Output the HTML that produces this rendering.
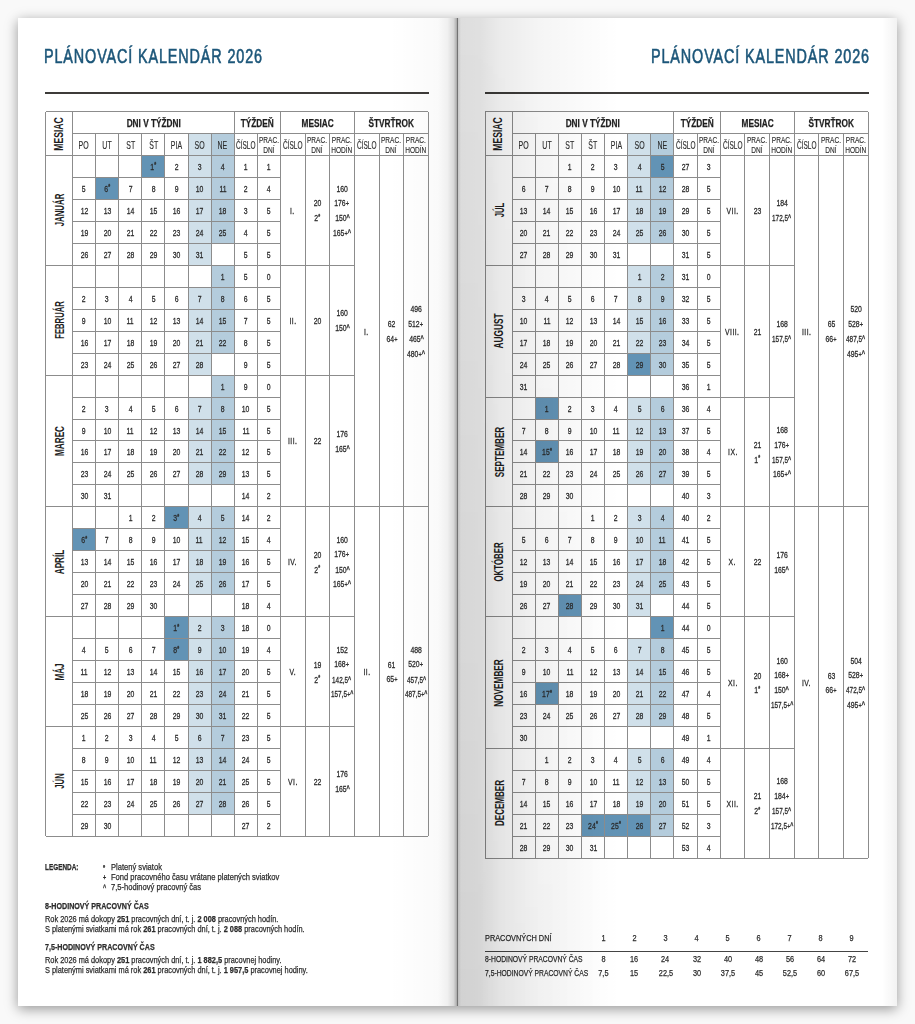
<!DOCTYPE html>
<html lang="sk"><head><meta charset="utf-8"><title>Plánovací kalendár 2026</title>
<style>
*{margin:0;padding:0;box-sizing:border-box}
html,body{width:915px;height:1024px;overflow:hidden;background:#f9f9f9}
body{position:relative;font-family:"Liberation Sans",Arial,sans-serif;color:#2b2b2b}
.r{position:absolute}
.c{position:absolute;display:flex;align-items:center;justify-content:center;text-align:center;white-space:nowrap}
.c>span{display:inline-block}
.n{font-size:9.8px;line-height:10px;-webkit-text-stroke:.3px #2b2b2b}
.n>span{transform:scaleX(0.7)}
.st{font-size:7px;font-weight:bold;position:relative;top:-2.5px;margin-left:.3px;line-height:0}
.ca{font-size:8px;font-weight:bold;position:relative;top:-1px;margin-left:0;line-height:0}
.lg6>span{transform:scaleX(.655)}
.rom>span{letter-spacing:.6px}
.pl{font-size:8px;margin-left:.3px}
.hb{font-size:10.6px;font-weight:bold;line-height:12px;-webkit-text-stroke:.25px #1e1e1e;color:#1e1e1e}
.hb>span{transform:scaleX(.78)}
.hs{font-size:10.5px;line-height:10px;-webkit-text-stroke:.15px #2b2b2b}
.hs>span{transform:scaleX(.662)}
.hs.k>span{transform:scaleX(.617)}
.hs2{font-size:9.8px;line-height:9.7px;-webkit-text-stroke:.15px #2b2b2b}
.hs2>span{transform:scaleX(.667)}
.hv{font-size:12.5px;font-weight:bold;color:#1e1e1e}
.hv>span{transform:rotate(-90deg) scaleX(.69)}
.mv{font-size:12.5px;font-weight:bold;color:#1e1e1e}
.mv>span{transform:rotate(-90deg) scaleX(.667)}
.page{position:absolute;top:18px;height:988px;background:#fff}
.title{position:absolute;top:45.5px;-webkit-text-stroke:.6px #1c5679;font-size:20px;line-height:20px;color:#1c5679;white-space:nowrap;transform-origin:0 0;transform:scaleX(.72);letter-spacing:1.2px}
.rule{position:absolute;top:91.8px;height:2px;background:#3d3b39}
.sl{position:absolute;font-size:9.5px;line-height:14px;-webkit-text-stroke:.25px #2b2b2b;white-space:nowrap;transform:scaleX(.8);transform-origin:0 0}
.sn{font-size:9.2px;line-height:10px;-webkit-text-stroke:.25px #2b2b2b}
.sn>span{transform:scaleX(.8)}
.lg{position:absolute;left:45px;font-size:9.5px;line-height:10px;white-space:nowrap;transform:scaleX(.778);transform-origin:0 0;-webkit-text-stroke:.25px #2b2b2b}
.sy{font-size:7px;font-weight:bold}
.lg b{font-weight:bold}
.ov{position:absolute;pointer-events:none}
</style></head>
<body>
<div class="r" style="left:18px;top:18px;width:879px;height:988px;box-shadow:0 3px 12px rgba(0,0,0,.4)"></div>
<div class="page" style="left:18px;width:439px"></div>
<div class="page" style="left:457px;width:440px"></div>
<div class="title" style="left:43.5px">PLÁNOVACÍ KALENDÁR 2026</div>
<div class="title" id="t2" style="left:651.3px">PLÁNOVACÍ KALENDÁR 2026</div>
<div class="rule" style="left:45px;width:384px"></div>
<div class="rule" style="left:485px;width:384px"></div>
<div class="r" style="left:188px;top:133.5px;width:23.1px;height:22px;background:#d0e0ea;"></div>
<div class="r" style="left:211.1px;top:133.5px;width:23.1px;height:22px;background:#b4ccdc;"></div>
<div class="r" style="left:141.8px;top:155.5px;width:23.1px;height:21.96px;background:#6293b5;"></div>
<div class="r" style="left:188px;top:155.5px;width:23.1px;height:21.96px;background:#d0e0ea;"></div>
<div class="r" style="left:211.1px;top:155.5px;width:23.1px;height:21.96px;background:#b4ccdc;"></div>
<div class="r" style="left:95.6px;top:177.46px;width:23.1px;height:21.96px;background:#6293b5;"></div>
<div class="r" style="left:188px;top:177.46px;width:23.1px;height:21.96px;background:#d0e0ea;"></div>
<div class="r" style="left:211.1px;top:177.46px;width:23.1px;height:21.96px;background:#b4ccdc;"></div>
<div class="r" style="left:188px;top:199.42px;width:23.1px;height:21.96px;background:#d0e0ea;"></div>
<div class="r" style="left:211.1px;top:199.42px;width:23.1px;height:21.96px;background:#b4ccdc;"></div>
<div class="r" style="left:188px;top:221.38px;width:23.1px;height:21.96px;background:#d0e0ea;"></div>
<div class="r" style="left:211.1px;top:221.38px;width:23.1px;height:21.96px;background:#b4ccdc;"></div>
<div class="r" style="left:188px;top:243.34px;width:23.1px;height:21.96px;background:#d0e0ea;"></div>
<div class="r" style="left:211.1px;top:265.3px;width:23.1px;height:21.96px;background:#b4ccdc;"></div>
<div class="r" style="left:188px;top:287.26px;width:23.1px;height:21.96px;background:#d0e0ea;"></div>
<div class="r" style="left:211.1px;top:287.26px;width:23.1px;height:21.96px;background:#b4ccdc;"></div>
<div class="r" style="left:188px;top:309.22px;width:23.1px;height:21.96px;background:#d0e0ea;"></div>
<div class="r" style="left:211.1px;top:309.22px;width:23.1px;height:21.96px;background:#b4ccdc;"></div>
<div class="r" style="left:188px;top:331.18px;width:23.1px;height:21.96px;background:#d0e0ea;"></div>
<div class="r" style="left:211.1px;top:331.18px;width:23.1px;height:21.96px;background:#b4ccdc;"></div>
<div class="r" style="left:188px;top:353.14px;width:23.1px;height:21.96px;background:#d0e0ea;"></div>
<div class="r" style="left:211.1px;top:375.1px;width:23.1px;height:21.96px;background:#b4ccdc;"></div>
<div class="r" style="left:188px;top:397.06px;width:23.1px;height:21.96px;background:#d0e0ea;"></div>
<div class="r" style="left:211.1px;top:397.06px;width:23.1px;height:21.96px;background:#b4ccdc;"></div>
<div class="r" style="left:188px;top:419.02px;width:23.1px;height:21.96px;background:#d0e0ea;"></div>
<div class="r" style="left:211.1px;top:419.02px;width:23.1px;height:21.96px;background:#b4ccdc;"></div>
<div class="r" style="left:188px;top:440.98px;width:23.1px;height:21.96px;background:#d0e0ea;"></div>
<div class="r" style="left:211.1px;top:440.98px;width:23.1px;height:21.96px;background:#b4ccdc;"></div>
<div class="r" style="left:188px;top:462.94px;width:23.1px;height:21.96px;background:#d0e0ea;"></div>
<div class="r" style="left:211.1px;top:462.94px;width:23.1px;height:21.96px;background:#b4ccdc;"></div>
<div class="r" style="left:164.9px;top:506.86px;width:23.1px;height:21.96px;background:#6293b5;"></div>
<div class="r" style="left:188px;top:506.86px;width:23.1px;height:21.96px;background:#d0e0ea;"></div>
<div class="r" style="left:211.1px;top:506.86px;width:23.1px;height:21.96px;background:#b4ccdc;"></div>
<div class="r" style="left:72.5px;top:528.82px;width:23.1px;height:21.96px;background:#6293b5;"></div>
<div class="r" style="left:188px;top:528.82px;width:23.1px;height:21.96px;background:#d0e0ea;"></div>
<div class="r" style="left:211.1px;top:528.82px;width:23.1px;height:21.96px;background:#b4ccdc;"></div>
<div class="r" style="left:188px;top:550.78px;width:23.1px;height:21.96px;background:#d0e0ea;"></div>
<div class="r" style="left:211.1px;top:550.78px;width:23.1px;height:21.96px;background:#b4ccdc;"></div>
<div class="r" style="left:188px;top:572.74px;width:23.1px;height:21.96px;background:#d0e0ea;"></div>
<div class="r" style="left:211.1px;top:572.74px;width:23.1px;height:21.96px;background:#b4ccdc;"></div>
<div class="r" style="left:164.9px;top:616.66px;width:23.1px;height:21.96px;background:#6293b5;"></div>
<div class="r" style="left:188px;top:616.66px;width:23.1px;height:21.96px;background:#d0e0ea;"></div>
<div class="r" style="left:211.1px;top:616.66px;width:23.1px;height:21.96px;background:#b4ccdc;"></div>
<div class="r" style="left:164.9px;top:638.62px;width:23.1px;height:21.96px;background:#6293b5;"></div>
<div class="r" style="left:188px;top:638.62px;width:23.1px;height:21.96px;background:#d0e0ea;"></div>
<div class="r" style="left:211.1px;top:638.62px;width:23.1px;height:21.96px;background:#b4ccdc;"></div>
<div class="r" style="left:188px;top:660.58px;width:23.1px;height:21.96px;background:#d0e0ea;"></div>
<div class="r" style="left:211.1px;top:660.58px;width:23.1px;height:21.96px;background:#b4ccdc;"></div>
<div class="r" style="left:188px;top:682.54px;width:23.1px;height:21.96px;background:#d0e0ea;"></div>
<div class="r" style="left:211.1px;top:682.54px;width:23.1px;height:21.96px;background:#b4ccdc;"></div>
<div class="r" style="left:188px;top:704.5px;width:23.1px;height:21.96px;background:#d0e0ea;"></div>
<div class="r" style="left:211.1px;top:704.5px;width:23.1px;height:21.96px;background:#b4ccdc;"></div>
<div class="r" style="left:188px;top:726.46px;width:23.1px;height:21.96px;background:#d0e0ea;"></div>
<div class="r" style="left:211.1px;top:726.46px;width:23.1px;height:21.96px;background:#b4ccdc;"></div>
<div class="r" style="left:188px;top:748.42px;width:23.1px;height:21.96px;background:#d0e0ea;"></div>
<div class="r" style="left:211.1px;top:748.42px;width:23.1px;height:21.96px;background:#b4ccdc;"></div>
<div class="r" style="left:188px;top:770.38px;width:23.1px;height:21.96px;background:#d0e0ea;"></div>
<div class="r" style="left:211.1px;top:770.38px;width:23.1px;height:21.96px;background:#b4ccdc;"></div>
<div class="r" style="left:188px;top:792.34px;width:23.1px;height:21.96px;background:#d0e0ea;"></div>
<div class="r" style="left:211.1px;top:792.34px;width:23.1px;height:21.96px;background:#b4ccdc;"></div>
<div class="r" style="left:45.5px;top:111px;width:382.98px;height:1px;background:#8c8c8c;"></div>
<div class="r" style="left:45.5px;top:835.76px;width:382.98px;height:1px;background:#8c8c8c;"></div>
<div class="r" style="left:45px;top:111.5px;width:1px;height:724.76px;background:#8c8c8c;"></div>
<div class="r" style="left:427.98px;top:111.5px;width:1px;height:724.76px;background:#8c8c8c;"></div>
<div class="r" style="left:72.5px;top:133px;width:355.98px;height:1px;background:#8c8c8c;"></div>
<div class="r" style="left:45.5px;top:155px;width:382.98px;height:1px;background:#8c8c8c;"></div>
<div class="r" style="left:72px;top:111.5px;width:1px;height:724.76px;background:#8c8c8c;"></div>
<div class="r" style="left:233.7px;top:111.5px;width:1px;height:724.76px;background:#8c8c8c;"></div>
<div class="r" style="left:279.9px;top:111.5px;width:1px;height:724.76px;background:#8c8c8c;"></div>
<div class="r" style="left:353.94px;top:111.5px;width:1px;height:724.76px;background:#8c8c8c;"></div>
<div class="r" style="left:95.1px;top:133.5px;width:1px;height:22px;background:#8c8c8c;"></div>
<div class="r" style="left:118.2px;top:133.5px;width:1px;height:22px;background:#8c8c8c;"></div>
<div class="r" style="left:141.3px;top:133.5px;width:1px;height:22px;background:#8c8c8c;"></div>
<div class="r" style="left:164.4px;top:133.5px;width:1px;height:22px;background:#8c8c8c;"></div>
<div class="r" style="left:187.5px;top:133.5px;width:1px;height:22px;background:#8c8c8c;"></div>
<div class="r" style="left:210.6px;top:133.5px;width:1px;height:22px;background:#8c8c8c;"></div>
<div class="r" style="left:256.8px;top:133.5px;width:1px;height:22px;background:#8c8c8c;"></div>
<div class="r" style="left:304.58px;top:133.5px;width:1px;height:22px;background:#8c8c8c;"></div>
<div class="r" style="left:329.26px;top:133.5px;width:1px;height:22px;background:#8c8c8c;"></div>
<div class="r" style="left:378.62px;top:133.5px;width:1px;height:22px;background:#8c8c8c;"></div>
<div class="r" style="left:403.3px;top:133.5px;width:1px;height:22px;background:#8c8c8c;"></div>
<div class="r" style="left:72.5px;top:176.96px;width:207.9px;height:1px;background:#8c8c8c;"></div>
<div class="r" style="left:72.5px;top:198.92px;width:207.9px;height:1px;background:#8c8c8c;"></div>
<div class="r" style="left:72.5px;top:220.88px;width:207.9px;height:1px;background:#8c8c8c;"></div>
<div class="r" style="left:72.5px;top:242.84px;width:207.9px;height:1px;background:#8c8c8c;"></div>
<div class="r" style="left:45.5px;top:264.8px;width:308.94px;height:1px;background:#8c8c8c;"></div>
<div class="r" style="left:72.5px;top:286.76px;width:207.9px;height:1px;background:#8c8c8c;"></div>
<div class="r" style="left:72.5px;top:308.72px;width:207.9px;height:1px;background:#8c8c8c;"></div>
<div class="r" style="left:72.5px;top:330.68px;width:207.9px;height:1px;background:#8c8c8c;"></div>
<div class="r" style="left:72.5px;top:352.64px;width:207.9px;height:1px;background:#8c8c8c;"></div>
<div class="r" style="left:45.5px;top:374.6px;width:308.94px;height:1px;background:#8c8c8c;"></div>
<div class="r" style="left:72.5px;top:396.56px;width:207.9px;height:1px;background:#8c8c8c;"></div>
<div class="r" style="left:72.5px;top:418.52px;width:207.9px;height:1px;background:#8c8c8c;"></div>
<div class="r" style="left:72.5px;top:440.48px;width:207.9px;height:1px;background:#8c8c8c;"></div>
<div class="r" style="left:72.5px;top:462.44px;width:207.9px;height:1px;background:#8c8c8c;"></div>
<div class="r" style="left:72.5px;top:484.4px;width:207.9px;height:1px;background:#8c8c8c;"></div>
<div class="r" style="left:45.5px;top:506.36px;width:308.94px;height:1px;background:#8c8c8c;"></div>
<div class="r" style="left:72.5px;top:528.32px;width:207.9px;height:1px;background:#8c8c8c;"></div>
<div class="r" style="left:72.5px;top:550.28px;width:207.9px;height:1px;background:#8c8c8c;"></div>
<div class="r" style="left:72.5px;top:572.24px;width:207.9px;height:1px;background:#8c8c8c;"></div>
<div class="r" style="left:72.5px;top:594.2px;width:207.9px;height:1px;background:#8c8c8c;"></div>
<div class="r" style="left:45.5px;top:616.16px;width:308.94px;height:1px;background:#8c8c8c;"></div>
<div class="r" style="left:72.5px;top:638.12px;width:207.9px;height:1px;background:#8c8c8c;"></div>
<div class="r" style="left:72.5px;top:660.08px;width:207.9px;height:1px;background:#8c8c8c;"></div>
<div class="r" style="left:72.5px;top:682.04px;width:207.9px;height:1px;background:#8c8c8c;"></div>
<div class="r" style="left:72.5px;top:704px;width:207.9px;height:1px;background:#8c8c8c;"></div>
<div class="r" style="left:45.5px;top:725.96px;width:308.94px;height:1px;background:#8c8c8c;"></div>
<div class="r" style="left:72.5px;top:747.92px;width:207.9px;height:1px;background:#8c8c8c;"></div>
<div class="r" style="left:72.5px;top:769.88px;width:207.9px;height:1px;background:#8c8c8c;"></div>
<div class="r" style="left:72.5px;top:791.84px;width:207.9px;height:1px;background:#8c8c8c;"></div>
<div class="r" style="left:72.5px;top:813.8px;width:207.9px;height:1px;background:#8c8c8c;"></div>
<div class="r" style="left:95.1px;top:155.5px;width:1px;height:680.76px;background:#8c8c8c;"></div>
<div class="r" style="left:118.2px;top:155.5px;width:1px;height:680.76px;background:#8c8c8c;"></div>
<div class="r" style="left:141.3px;top:155.5px;width:1px;height:680.76px;background:#8c8c8c;"></div>
<div class="r" style="left:164.4px;top:155.5px;width:1px;height:680.76px;background:#8c8c8c;"></div>
<div class="r" style="left:187.5px;top:155.5px;width:1px;height:680.76px;background:#8c8c8c;"></div>
<div class="r" style="left:210.6px;top:155.5px;width:1px;height:680.76px;background:#8c8c8c;"></div>
<div class="r" style="left:233.7px;top:155.5px;width:1px;height:680.76px;background:#8c8c8c;"></div>
<div class="r" style="left:256.8px;top:155.5px;width:1px;height:680.76px;background:#8c8c8c;"></div>
<div class="r" style="left:304.58px;top:155.5px;width:1px;height:680.76px;background:#8c8c8c;"></div>
<div class="r" style="left:329.26px;top:155.5px;width:1px;height:680.76px;background:#8c8c8c;"></div>
<div class="r" style="left:378.62px;top:155.5px;width:1px;height:680.76px;background:#8c8c8c;"></div>
<div class="r" style="left:403.3px;top:155.5px;width:1px;height:680.76px;background:#8c8c8c;"></div>
<div class="r" style="left:354.44px;top:506.36px;width:74.04px;height:1px;background:#8c8c8c;"></div>
<div class="c hv" style="left:41px;top:126.5px;width:36px;height:14px"><span>MESIAC</span></div>
<div class="c hb" style="left:93.35px;top:115.5px;width:120px;height:14px"><span>DNI V TÝŽDNI</span></div>
<div class="c hb" style="left:234.3px;top:115.5px;width:46px;height:14px"><span>TÝŽDEŇ</span></div>
<div class="c hb" style="left:280.42px;top:115.5px;width:74px;height:14px"><span>MESIAC</span></div>
<div class="c hb" style="left:354.46px;top:115.5px;width:74px;height:14px"><span>ŠTVRŤROK</span></div>
<div class="c hs" style="left:72.5px;top:137.5px;width:23.1px;height:14px"><span>PO</span></div>
<div class="c hs" style="left:95.6px;top:137.5px;width:23.1px;height:14px"><span>UT</span></div>
<div class="c hs" style="left:118.7px;top:137.5px;width:23.1px;height:14px"><span>ST</span></div>
<div class="c hs" style="left:141.8px;top:137.5px;width:23.1px;height:14px"><span>ŠT</span></div>
<div class="c hs" style="left:164.9px;top:137.5px;width:23.1px;height:14px"><span>PIA</span></div>
<div class="c hs" style="left:188px;top:137.5px;width:23.1px;height:14px"><span>SO</span></div>
<div class="c hs" style="left:211.1px;top:137.5px;width:23.1px;height:14px"><span>NE</span></div>
<div class="c hs k" style="left:230.75px;top:134.5px;width:30px;height:20px"><span>ČÍSLO</span></div>
<div class="c hs2" style="left:253.85px;top:134.5px;width:30px;height:20px"><span>PRAC.<br>DNÍ</span></div>
<div class="c hs k" style="left:277.74px;top:134.5px;width:30px;height:20px"><span>ČÍSLO</span></div>
<div class="c hs2" style="left:302.42px;top:134.5px;width:30px;height:20px"><span>PRAC.<br>DNÍ</span></div>
<div class="c hs2" style="left:327.1px;top:134.5px;width:30px;height:20px"><span>PRAC.<br>HODÍN</span></div>
<div class="c hs k" style="left:351.78px;top:134.5px;width:30px;height:20px"><span>ČÍSLO</span></div>
<div class="c hs2" style="left:376.46px;top:134.5px;width:30px;height:20px"><span>PRAC.<br>DNÍ</span></div>
<div class="c hs2" style="left:401.14px;top:134.5px;width:30px;height:20px"><span>PRAC.<br>HODÍN</span></div>
<div class="c n" style="left:141.8px;top:159.98px;width:23.1px;height:14px"><span>1<span class="st">*</span></span></div>
<div class="c n" style="left:164.9px;top:159.98px;width:23.1px;height:14px"><span>2</span></div>
<div class="c n" style="left:188px;top:159.98px;width:23.1px;height:14px"><span>3</span></div>
<div class="c n" style="left:211.1px;top:159.98px;width:23.1px;height:14px"><span>4</span></div>
<div class="c n" style="left:72.5px;top:181.94px;width:23.1px;height:14px"><span>5</span></div>
<div class="c n" style="left:95.6px;top:181.94px;width:23.1px;height:14px"><span>6<span class="st">*</span></span></div>
<div class="c n" style="left:118.7px;top:181.94px;width:23.1px;height:14px"><span>7</span></div>
<div class="c n" style="left:141.8px;top:181.94px;width:23.1px;height:14px"><span>8</span></div>
<div class="c n" style="left:164.9px;top:181.94px;width:23.1px;height:14px"><span>9</span></div>
<div class="c n" style="left:188px;top:181.94px;width:23.1px;height:14px"><span>10</span></div>
<div class="c n" style="left:211.1px;top:181.94px;width:23.1px;height:14px"><span>11</span></div>
<div class="c n" style="left:72.5px;top:203.9px;width:23.1px;height:14px"><span>12</span></div>
<div class="c n" style="left:95.6px;top:203.9px;width:23.1px;height:14px"><span>13</span></div>
<div class="c n" style="left:118.7px;top:203.9px;width:23.1px;height:14px"><span>14</span></div>
<div class="c n" style="left:141.8px;top:203.9px;width:23.1px;height:14px"><span>15</span></div>
<div class="c n" style="left:164.9px;top:203.9px;width:23.1px;height:14px"><span>16</span></div>
<div class="c n" style="left:188px;top:203.9px;width:23.1px;height:14px"><span>17</span></div>
<div class="c n" style="left:211.1px;top:203.9px;width:23.1px;height:14px"><span>18</span></div>
<div class="c n" style="left:72.5px;top:225.86px;width:23.1px;height:14px"><span>19</span></div>
<div class="c n" style="left:95.6px;top:225.86px;width:23.1px;height:14px"><span>20</span></div>
<div class="c n" style="left:118.7px;top:225.86px;width:23.1px;height:14px"><span>21</span></div>
<div class="c n" style="left:141.8px;top:225.86px;width:23.1px;height:14px"><span>22</span></div>
<div class="c n" style="left:164.9px;top:225.86px;width:23.1px;height:14px"><span>23</span></div>
<div class="c n" style="left:188px;top:225.86px;width:23.1px;height:14px"><span>24</span></div>
<div class="c n" style="left:211.1px;top:225.86px;width:23.1px;height:14px"><span>25</span></div>
<div class="c n" style="left:72.5px;top:247.82px;width:23.1px;height:14px"><span>26</span></div>
<div class="c n" style="left:95.6px;top:247.82px;width:23.1px;height:14px"><span>27</span></div>
<div class="c n" style="left:118.7px;top:247.82px;width:23.1px;height:14px"><span>28</span></div>
<div class="c n" style="left:141.8px;top:247.82px;width:23.1px;height:14px"><span>29</span></div>
<div class="c n" style="left:164.9px;top:247.82px;width:23.1px;height:14px"><span>30</span></div>
<div class="c n" style="left:188px;top:247.82px;width:23.1px;height:14px"><span>31</span></div>
<div class="c n" style="left:234.2px;top:159.98px;width:23.1px;height:14px"><span>1</span></div>
<div class="c n" style="left:257.3px;top:159.98px;width:23.1px;height:14px"><span>1</span></div>
<div class="c n" style="left:234.2px;top:181.94px;width:23.1px;height:14px"><span>2</span></div>
<div class="c n" style="left:257.3px;top:181.94px;width:23.1px;height:14px"><span>4</span></div>
<div class="c n" style="left:234.2px;top:203.9px;width:23.1px;height:14px"><span>3</span></div>
<div class="c n" style="left:257.3px;top:203.9px;width:23.1px;height:14px"><span>5</span></div>
<div class="c n" style="left:234.2px;top:225.86px;width:23.1px;height:14px"><span>4</span></div>
<div class="c n" style="left:257.3px;top:225.86px;width:23.1px;height:14px"><span>5</span></div>
<div class="c n" style="left:234.2px;top:247.82px;width:23.1px;height:14px"><span>5</span></div>
<div class="c n" style="left:257.3px;top:247.82px;width:23.1px;height:14px"><span>5</span></div>
<div class="c mv" style="left:19.8px;top:203.4px;width:80px;height:14px"><span style="transform:rotate(-90deg) scaleX(0.628)">JANUÁR</span></div>
<div class="c n rom" style="left:280.4px;top:203.9px;width:24.68px;height:14px"><span>I.</span></div>
<div class="c n" style="left:300.42px;top:196.45px;width:34px;height:14px"><span>20</span></div>
<div class="c n" style="left:300.42px;top:211.35px;width:34px;height:14px"><span>2<span class="st">*</span></span></div>
<div class="c n" style="left:325.1px;top:181.55px;width:34px;height:14px"><span>160</span></div>
<div class="c n" style="left:325.1px;top:196.45px;width:34px;height:14px"><span>176<span class="pl">+</span></span></div>
<div class="c n" style="left:325.1px;top:211.35px;width:34px;height:14px"><span>150<span class="ca">^</span></span></div>
<div class="c n" style="left:325.1px;top:226.25px;width:34px;height:14px"><span>165<span class="pl">+</span><span class="ca">^</span></span></div>
<div class="c n" style="left:211.1px;top:269.78px;width:23.1px;height:14px"><span>1</span></div>
<div class="c n" style="left:72.5px;top:291.74px;width:23.1px;height:14px"><span>2</span></div>
<div class="c n" style="left:95.6px;top:291.74px;width:23.1px;height:14px"><span>3</span></div>
<div class="c n" style="left:118.7px;top:291.74px;width:23.1px;height:14px"><span>4</span></div>
<div class="c n" style="left:141.8px;top:291.74px;width:23.1px;height:14px"><span>5</span></div>
<div class="c n" style="left:164.9px;top:291.74px;width:23.1px;height:14px"><span>6</span></div>
<div class="c n" style="left:188px;top:291.74px;width:23.1px;height:14px"><span>7</span></div>
<div class="c n" style="left:211.1px;top:291.74px;width:23.1px;height:14px"><span>8</span></div>
<div class="c n" style="left:72.5px;top:313.7px;width:23.1px;height:14px"><span>9</span></div>
<div class="c n" style="left:95.6px;top:313.7px;width:23.1px;height:14px"><span>10</span></div>
<div class="c n" style="left:118.7px;top:313.7px;width:23.1px;height:14px"><span>11</span></div>
<div class="c n" style="left:141.8px;top:313.7px;width:23.1px;height:14px"><span>12</span></div>
<div class="c n" style="left:164.9px;top:313.7px;width:23.1px;height:14px"><span>13</span></div>
<div class="c n" style="left:188px;top:313.7px;width:23.1px;height:14px"><span>14</span></div>
<div class="c n" style="left:211.1px;top:313.7px;width:23.1px;height:14px"><span>15</span></div>
<div class="c n" style="left:72.5px;top:335.66px;width:23.1px;height:14px"><span>16</span></div>
<div class="c n" style="left:95.6px;top:335.66px;width:23.1px;height:14px"><span>17</span></div>
<div class="c n" style="left:118.7px;top:335.66px;width:23.1px;height:14px"><span>18</span></div>
<div class="c n" style="left:141.8px;top:335.66px;width:23.1px;height:14px"><span>19</span></div>
<div class="c n" style="left:164.9px;top:335.66px;width:23.1px;height:14px"><span>20</span></div>
<div class="c n" style="left:188px;top:335.66px;width:23.1px;height:14px"><span>21</span></div>
<div class="c n" style="left:211.1px;top:335.66px;width:23.1px;height:14px"><span>22</span></div>
<div class="c n" style="left:72.5px;top:357.62px;width:23.1px;height:14px"><span>23</span></div>
<div class="c n" style="left:95.6px;top:357.62px;width:23.1px;height:14px"><span>24</span></div>
<div class="c n" style="left:118.7px;top:357.62px;width:23.1px;height:14px"><span>25</span></div>
<div class="c n" style="left:141.8px;top:357.62px;width:23.1px;height:14px"><span>26</span></div>
<div class="c n" style="left:164.9px;top:357.62px;width:23.1px;height:14px"><span>27</span></div>
<div class="c n" style="left:188px;top:357.62px;width:23.1px;height:14px"><span>28</span></div>
<div class="c n" style="left:234.2px;top:269.78px;width:23.1px;height:14px"><span>5</span></div>
<div class="c n" style="left:257.3px;top:269.78px;width:23.1px;height:14px"><span>0</span></div>
<div class="c n" style="left:234.2px;top:291.74px;width:23.1px;height:14px"><span>6</span></div>
<div class="c n" style="left:257.3px;top:291.74px;width:23.1px;height:14px"><span>5</span></div>
<div class="c n" style="left:234.2px;top:313.7px;width:23.1px;height:14px"><span>7</span></div>
<div class="c n" style="left:257.3px;top:313.7px;width:23.1px;height:14px"><span>5</span></div>
<div class="c n" style="left:234.2px;top:335.66px;width:23.1px;height:14px"><span>8</span></div>
<div class="c n" style="left:257.3px;top:335.66px;width:23.1px;height:14px"><span>5</span></div>
<div class="c n" style="left:234.2px;top:357.62px;width:23.1px;height:14px"><span>9</span></div>
<div class="c n" style="left:257.3px;top:357.62px;width:23.1px;height:14px"><span>5</span></div>
<div class="c mv" style="left:19.8px;top:313.2px;width:80px;height:14px"><span style="transform:rotate(-90deg) scaleX(0.615)">FEBRUÁR</span></div>
<div class="c n rom" style="left:280.4px;top:313.7px;width:24.68px;height:14px"><span>II.</span></div>
<div class="c n" style="left:300.42px;top:313.7px;width:34px;height:14px"><span>20</span></div>
<div class="c n" style="left:325.1px;top:306.25px;width:34px;height:14px"><span>160</span></div>
<div class="c n" style="left:325.1px;top:321.15px;width:34px;height:14px"><span>150<span class="ca">^</span></span></div>
<div class="c n" style="left:211.1px;top:379.58px;width:23.1px;height:14px"><span>1</span></div>
<div class="c n" style="left:72.5px;top:401.54px;width:23.1px;height:14px"><span>2</span></div>
<div class="c n" style="left:95.6px;top:401.54px;width:23.1px;height:14px"><span>3</span></div>
<div class="c n" style="left:118.7px;top:401.54px;width:23.1px;height:14px"><span>4</span></div>
<div class="c n" style="left:141.8px;top:401.54px;width:23.1px;height:14px"><span>5</span></div>
<div class="c n" style="left:164.9px;top:401.54px;width:23.1px;height:14px"><span>6</span></div>
<div class="c n" style="left:188px;top:401.54px;width:23.1px;height:14px"><span>7</span></div>
<div class="c n" style="left:211.1px;top:401.54px;width:23.1px;height:14px"><span>8</span></div>
<div class="c n" style="left:72.5px;top:423.5px;width:23.1px;height:14px"><span>9</span></div>
<div class="c n" style="left:95.6px;top:423.5px;width:23.1px;height:14px"><span>10</span></div>
<div class="c n" style="left:118.7px;top:423.5px;width:23.1px;height:14px"><span>11</span></div>
<div class="c n" style="left:141.8px;top:423.5px;width:23.1px;height:14px"><span>12</span></div>
<div class="c n" style="left:164.9px;top:423.5px;width:23.1px;height:14px"><span>13</span></div>
<div class="c n" style="left:188px;top:423.5px;width:23.1px;height:14px"><span>14</span></div>
<div class="c n" style="left:211.1px;top:423.5px;width:23.1px;height:14px"><span>15</span></div>
<div class="c n" style="left:72.5px;top:445.46px;width:23.1px;height:14px"><span>16</span></div>
<div class="c n" style="left:95.6px;top:445.46px;width:23.1px;height:14px"><span>17</span></div>
<div class="c n" style="left:118.7px;top:445.46px;width:23.1px;height:14px"><span>18</span></div>
<div class="c n" style="left:141.8px;top:445.46px;width:23.1px;height:14px"><span>19</span></div>
<div class="c n" style="left:164.9px;top:445.46px;width:23.1px;height:14px"><span>20</span></div>
<div class="c n" style="left:188px;top:445.46px;width:23.1px;height:14px"><span>21</span></div>
<div class="c n" style="left:211.1px;top:445.46px;width:23.1px;height:14px"><span>22</span></div>
<div class="c n" style="left:72.5px;top:467.42px;width:23.1px;height:14px"><span>23</span></div>
<div class="c n" style="left:95.6px;top:467.42px;width:23.1px;height:14px"><span>24</span></div>
<div class="c n" style="left:118.7px;top:467.42px;width:23.1px;height:14px"><span>25</span></div>
<div class="c n" style="left:141.8px;top:467.42px;width:23.1px;height:14px"><span>26</span></div>
<div class="c n" style="left:164.9px;top:467.42px;width:23.1px;height:14px"><span>27</span></div>
<div class="c n" style="left:188px;top:467.42px;width:23.1px;height:14px"><span>28</span></div>
<div class="c n" style="left:211.1px;top:467.42px;width:23.1px;height:14px"><span>29</span></div>
<div class="c n" style="left:72.5px;top:489.38px;width:23.1px;height:14px"><span>30</span></div>
<div class="c n" style="left:95.6px;top:489.38px;width:23.1px;height:14px"><span>31</span></div>
<div class="c n" style="left:234.2px;top:379.58px;width:23.1px;height:14px"><span>9</span></div>
<div class="c n" style="left:257.3px;top:379.58px;width:23.1px;height:14px"><span>0</span></div>
<div class="c n" style="left:234.2px;top:401.54px;width:23.1px;height:14px"><span>10</span></div>
<div class="c n" style="left:257.3px;top:401.54px;width:23.1px;height:14px"><span>5</span></div>
<div class="c n" style="left:234.2px;top:423.5px;width:23.1px;height:14px"><span>11</span></div>
<div class="c n" style="left:257.3px;top:423.5px;width:23.1px;height:14px"><span>5</span></div>
<div class="c n" style="left:234.2px;top:445.46px;width:23.1px;height:14px"><span>12</span></div>
<div class="c n" style="left:257.3px;top:445.46px;width:23.1px;height:14px"><span>5</span></div>
<div class="c n" style="left:234.2px;top:467.42px;width:23.1px;height:14px"><span>13</span></div>
<div class="c n" style="left:257.3px;top:467.42px;width:23.1px;height:14px"><span>5</span></div>
<div class="c n" style="left:234.2px;top:489.38px;width:23.1px;height:14px"><span>14</span></div>
<div class="c n" style="left:257.3px;top:489.38px;width:23.1px;height:14px"><span>2</span></div>
<div class="c mv" style="left:19.8px;top:433.98px;width:80px;height:14px"><span style="transform:rotate(-90deg) scaleX(0.654)">MAREC</span></div>
<div class="c n rom" style="left:280.4px;top:434.48px;width:24.68px;height:14px"><span>III.</span></div>
<div class="c n" style="left:300.42px;top:434.48px;width:34px;height:14px"><span>22</span></div>
<div class="c n" style="left:325.1px;top:427.03px;width:34px;height:14px"><span>176</span></div>
<div class="c n" style="left:325.1px;top:441.93px;width:34px;height:14px"><span>165<span class="ca">^</span></span></div>
<div class="c n" style="left:118.7px;top:511.34px;width:23.1px;height:14px"><span>1</span></div>
<div class="c n" style="left:141.8px;top:511.34px;width:23.1px;height:14px"><span>2</span></div>
<div class="c n" style="left:164.9px;top:511.34px;width:23.1px;height:14px"><span>3<span class="st">*</span></span></div>
<div class="c n" style="left:188px;top:511.34px;width:23.1px;height:14px"><span>4</span></div>
<div class="c n" style="left:211.1px;top:511.34px;width:23.1px;height:14px"><span>5</span></div>
<div class="c n" style="left:72.5px;top:533.3px;width:23.1px;height:14px"><span>6<span class="st">*</span></span></div>
<div class="c n" style="left:95.6px;top:533.3px;width:23.1px;height:14px"><span>7</span></div>
<div class="c n" style="left:118.7px;top:533.3px;width:23.1px;height:14px"><span>8</span></div>
<div class="c n" style="left:141.8px;top:533.3px;width:23.1px;height:14px"><span>9</span></div>
<div class="c n" style="left:164.9px;top:533.3px;width:23.1px;height:14px"><span>10</span></div>
<div class="c n" style="left:188px;top:533.3px;width:23.1px;height:14px"><span>11</span></div>
<div class="c n" style="left:211.1px;top:533.3px;width:23.1px;height:14px"><span>12</span></div>
<div class="c n" style="left:72.5px;top:555.26px;width:23.1px;height:14px"><span>13</span></div>
<div class="c n" style="left:95.6px;top:555.26px;width:23.1px;height:14px"><span>14</span></div>
<div class="c n" style="left:118.7px;top:555.26px;width:23.1px;height:14px"><span>15</span></div>
<div class="c n" style="left:141.8px;top:555.26px;width:23.1px;height:14px"><span>16</span></div>
<div class="c n" style="left:164.9px;top:555.26px;width:23.1px;height:14px"><span>17</span></div>
<div class="c n" style="left:188px;top:555.26px;width:23.1px;height:14px"><span>18</span></div>
<div class="c n" style="left:211.1px;top:555.26px;width:23.1px;height:14px"><span>19</span></div>
<div class="c n" style="left:72.5px;top:577.22px;width:23.1px;height:14px"><span>20</span></div>
<div class="c n" style="left:95.6px;top:577.22px;width:23.1px;height:14px"><span>21</span></div>
<div class="c n" style="left:118.7px;top:577.22px;width:23.1px;height:14px"><span>22</span></div>
<div class="c n" style="left:141.8px;top:577.22px;width:23.1px;height:14px"><span>23</span></div>
<div class="c n" style="left:164.9px;top:577.22px;width:23.1px;height:14px"><span>24</span></div>
<div class="c n" style="left:188px;top:577.22px;width:23.1px;height:14px"><span>25</span></div>
<div class="c n" style="left:211.1px;top:577.22px;width:23.1px;height:14px"><span>26</span></div>
<div class="c n" style="left:72.5px;top:599.18px;width:23.1px;height:14px"><span>27</span></div>
<div class="c n" style="left:95.6px;top:599.18px;width:23.1px;height:14px"><span>28</span></div>
<div class="c n" style="left:118.7px;top:599.18px;width:23.1px;height:14px"><span>29</span></div>
<div class="c n" style="left:141.8px;top:599.18px;width:23.1px;height:14px"><span>30</span></div>
<div class="c n" style="left:234.2px;top:511.34px;width:23.1px;height:14px"><span>14</span></div>
<div class="c n" style="left:257.3px;top:511.34px;width:23.1px;height:14px"><span>2</span></div>
<div class="c n" style="left:234.2px;top:533.3px;width:23.1px;height:14px"><span>15</span></div>
<div class="c n" style="left:257.3px;top:533.3px;width:23.1px;height:14px"><span>4</span></div>
<div class="c n" style="left:234.2px;top:555.26px;width:23.1px;height:14px"><span>16</span></div>
<div class="c n" style="left:257.3px;top:555.26px;width:23.1px;height:14px"><span>5</span></div>
<div class="c n" style="left:234.2px;top:577.22px;width:23.1px;height:14px"><span>17</span></div>
<div class="c n" style="left:257.3px;top:577.22px;width:23.1px;height:14px"><span>5</span></div>
<div class="c n" style="left:234.2px;top:599.18px;width:23.1px;height:14px"><span>18</span></div>
<div class="c n" style="left:257.3px;top:599.18px;width:23.1px;height:14px"><span>4</span></div>
<div class="c mv" style="left:19.8px;top:554.76px;width:80px;height:14px"><span style="transform:rotate(-90deg) scaleX(0.653)">APRÍL</span></div>
<div class="c n rom" style="left:280.4px;top:555.26px;width:24.68px;height:14px"><span>IV.</span></div>
<div class="c n" style="left:300.42px;top:547.81px;width:34px;height:14px"><span>20</span></div>
<div class="c n" style="left:300.42px;top:562.71px;width:34px;height:14px"><span>2<span class="st">*</span></span></div>
<div class="c n" style="left:325.1px;top:532.91px;width:34px;height:14px"><span>160</span></div>
<div class="c n" style="left:325.1px;top:547.81px;width:34px;height:14px"><span>176<span class="pl">+</span></span></div>
<div class="c n" style="left:325.1px;top:562.71px;width:34px;height:14px"><span>150<span class="ca">^</span></span></div>
<div class="c n" style="left:325.1px;top:577.61px;width:34px;height:14px"><span>165<span class="pl">+</span><span class="ca">^</span></span></div>
<div class="c n" style="left:164.9px;top:621.14px;width:23.1px;height:14px"><span>1<span class="st">*</span></span></div>
<div class="c n" style="left:188px;top:621.14px;width:23.1px;height:14px"><span>2</span></div>
<div class="c n" style="left:211.1px;top:621.14px;width:23.1px;height:14px"><span>3</span></div>
<div class="c n" style="left:72.5px;top:643.1px;width:23.1px;height:14px"><span>4</span></div>
<div class="c n" style="left:95.6px;top:643.1px;width:23.1px;height:14px"><span>5</span></div>
<div class="c n" style="left:118.7px;top:643.1px;width:23.1px;height:14px"><span>6</span></div>
<div class="c n" style="left:141.8px;top:643.1px;width:23.1px;height:14px"><span>7</span></div>
<div class="c n" style="left:164.9px;top:643.1px;width:23.1px;height:14px"><span>8<span class="st">*</span></span></div>
<div class="c n" style="left:188px;top:643.1px;width:23.1px;height:14px"><span>9</span></div>
<div class="c n" style="left:211.1px;top:643.1px;width:23.1px;height:14px"><span>10</span></div>
<div class="c n" style="left:72.5px;top:665.06px;width:23.1px;height:14px"><span>11</span></div>
<div class="c n" style="left:95.6px;top:665.06px;width:23.1px;height:14px"><span>12</span></div>
<div class="c n" style="left:118.7px;top:665.06px;width:23.1px;height:14px"><span>13</span></div>
<div class="c n" style="left:141.8px;top:665.06px;width:23.1px;height:14px"><span>14</span></div>
<div class="c n" style="left:164.9px;top:665.06px;width:23.1px;height:14px"><span>15</span></div>
<div class="c n" style="left:188px;top:665.06px;width:23.1px;height:14px"><span>16</span></div>
<div class="c n" style="left:211.1px;top:665.06px;width:23.1px;height:14px"><span>17</span></div>
<div class="c n" style="left:72.5px;top:687.02px;width:23.1px;height:14px"><span>18</span></div>
<div class="c n" style="left:95.6px;top:687.02px;width:23.1px;height:14px"><span>19</span></div>
<div class="c n" style="left:118.7px;top:687.02px;width:23.1px;height:14px"><span>20</span></div>
<div class="c n" style="left:141.8px;top:687.02px;width:23.1px;height:14px"><span>21</span></div>
<div class="c n" style="left:164.9px;top:687.02px;width:23.1px;height:14px"><span>22</span></div>
<div class="c n" style="left:188px;top:687.02px;width:23.1px;height:14px"><span>23</span></div>
<div class="c n" style="left:211.1px;top:687.02px;width:23.1px;height:14px"><span>24</span></div>
<div class="c n" style="left:72.5px;top:708.98px;width:23.1px;height:14px"><span>25</span></div>
<div class="c n" style="left:95.6px;top:708.98px;width:23.1px;height:14px"><span>26</span></div>
<div class="c n" style="left:118.7px;top:708.98px;width:23.1px;height:14px"><span>27</span></div>
<div class="c n" style="left:141.8px;top:708.98px;width:23.1px;height:14px"><span>28</span></div>
<div class="c n" style="left:164.9px;top:708.98px;width:23.1px;height:14px"><span>29</span></div>
<div class="c n" style="left:188px;top:708.98px;width:23.1px;height:14px"><span>30</span></div>
<div class="c n" style="left:211.1px;top:708.98px;width:23.1px;height:14px"><span>31</span></div>
<div class="c n" style="left:234.2px;top:621.14px;width:23.1px;height:14px"><span>18</span></div>
<div class="c n" style="left:257.3px;top:621.14px;width:23.1px;height:14px"><span>0</span></div>
<div class="c n" style="left:234.2px;top:643.1px;width:23.1px;height:14px"><span>19</span></div>
<div class="c n" style="left:257.3px;top:643.1px;width:23.1px;height:14px"><span>4</span></div>
<div class="c n" style="left:234.2px;top:665.06px;width:23.1px;height:14px"><span>20</span></div>
<div class="c n" style="left:257.3px;top:665.06px;width:23.1px;height:14px"><span>5</span></div>
<div class="c n" style="left:234.2px;top:687.02px;width:23.1px;height:14px"><span>21</span></div>
<div class="c n" style="left:257.3px;top:687.02px;width:23.1px;height:14px"><span>5</span></div>
<div class="c n" style="left:234.2px;top:708.98px;width:23.1px;height:14px"><span>22</span></div>
<div class="c n" style="left:257.3px;top:708.98px;width:23.1px;height:14px"><span>5</span></div>
<div class="c mv" style="left:19.8px;top:664.56px;width:80px;height:14px"><span style="transform:rotate(-90deg) scaleX(0.646)">MÁJ</span></div>
<div class="c n rom" style="left:280.4px;top:665.06px;width:24.68px;height:14px"><span>V.</span></div>
<div class="c n" style="left:300.42px;top:657.61px;width:34px;height:14px"><span>19</span></div>
<div class="c n" style="left:300.42px;top:672.51px;width:34px;height:14px"><span>2<span class="st">*</span></span></div>
<div class="c n" style="left:325.1px;top:642.71px;width:34px;height:14px"><span>152</span></div>
<div class="c n" style="left:325.1px;top:657.61px;width:34px;height:14px"><span>168<span class="pl">+</span></span></div>
<div class="c n lg6" style="left:325.1px;top:672.51px;width:34px;height:14px"><span>142,5<span class="ca">^</span></span></div>
<div class="c n lg6" style="left:325.1px;top:687.41px;width:34px;height:14px"><span>157,5<span class="pl">+</span><span class="ca">^</span></span></div>
<div class="c n" style="left:72.5px;top:730.94px;width:23.1px;height:14px"><span>1</span></div>
<div class="c n" style="left:95.6px;top:730.94px;width:23.1px;height:14px"><span>2</span></div>
<div class="c n" style="left:118.7px;top:730.94px;width:23.1px;height:14px"><span>3</span></div>
<div class="c n" style="left:141.8px;top:730.94px;width:23.1px;height:14px"><span>4</span></div>
<div class="c n" style="left:164.9px;top:730.94px;width:23.1px;height:14px"><span>5</span></div>
<div class="c n" style="left:188px;top:730.94px;width:23.1px;height:14px"><span>6</span></div>
<div class="c n" style="left:211.1px;top:730.94px;width:23.1px;height:14px"><span>7</span></div>
<div class="c n" style="left:72.5px;top:752.9px;width:23.1px;height:14px"><span>8</span></div>
<div class="c n" style="left:95.6px;top:752.9px;width:23.1px;height:14px"><span>9</span></div>
<div class="c n" style="left:118.7px;top:752.9px;width:23.1px;height:14px"><span>10</span></div>
<div class="c n" style="left:141.8px;top:752.9px;width:23.1px;height:14px"><span>11</span></div>
<div class="c n" style="left:164.9px;top:752.9px;width:23.1px;height:14px"><span>12</span></div>
<div class="c n" style="left:188px;top:752.9px;width:23.1px;height:14px"><span>13</span></div>
<div class="c n" style="left:211.1px;top:752.9px;width:23.1px;height:14px"><span>14</span></div>
<div class="c n" style="left:72.5px;top:774.86px;width:23.1px;height:14px"><span>15</span></div>
<div class="c n" style="left:95.6px;top:774.86px;width:23.1px;height:14px"><span>16</span></div>
<div class="c n" style="left:118.7px;top:774.86px;width:23.1px;height:14px"><span>17</span></div>
<div class="c n" style="left:141.8px;top:774.86px;width:23.1px;height:14px"><span>18</span></div>
<div class="c n" style="left:164.9px;top:774.86px;width:23.1px;height:14px"><span>19</span></div>
<div class="c n" style="left:188px;top:774.86px;width:23.1px;height:14px"><span>20</span></div>
<div class="c n" style="left:211.1px;top:774.86px;width:23.1px;height:14px"><span>21</span></div>
<div class="c n" style="left:72.5px;top:796.82px;width:23.1px;height:14px"><span>22</span></div>
<div class="c n" style="left:95.6px;top:796.82px;width:23.1px;height:14px"><span>23</span></div>
<div class="c n" style="left:118.7px;top:796.82px;width:23.1px;height:14px"><span>24</span></div>
<div class="c n" style="left:141.8px;top:796.82px;width:23.1px;height:14px"><span>25</span></div>
<div class="c n" style="left:164.9px;top:796.82px;width:23.1px;height:14px"><span>26</span></div>
<div class="c n" style="left:188px;top:796.82px;width:23.1px;height:14px"><span>27</span></div>
<div class="c n" style="left:211.1px;top:796.82px;width:23.1px;height:14px"><span>28</span></div>
<div class="c n" style="left:72.5px;top:818.78px;width:23.1px;height:14px"><span>29</span></div>
<div class="c n" style="left:95.6px;top:818.78px;width:23.1px;height:14px"><span>30</span></div>
<div class="c n" style="left:234.2px;top:730.94px;width:23.1px;height:14px"><span>23</span></div>
<div class="c n" style="left:257.3px;top:730.94px;width:23.1px;height:14px"><span>5</span></div>
<div class="c n" style="left:234.2px;top:752.9px;width:23.1px;height:14px"><span>24</span></div>
<div class="c n" style="left:257.3px;top:752.9px;width:23.1px;height:14px"><span>5</span></div>
<div class="c n" style="left:234.2px;top:774.86px;width:23.1px;height:14px"><span>25</span></div>
<div class="c n" style="left:257.3px;top:774.86px;width:23.1px;height:14px"><span>5</span></div>
<div class="c n" style="left:234.2px;top:796.82px;width:23.1px;height:14px"><span>26</span></div>
<div class="c n" style="left:257.3px;top:796.82px;width:23.1px;height:14px"><span>5</span></div>
<div class="c n" style="left:234.2px;top:818.78px;width:23.1px;height:14px"><span>27</span></div>
<div class="c n" style="left:257.3px;top:818.78px;width:23.1px;height:14px"><span>2</span></div>
<div class="c mv" style="left:19.8px;top:774.36px;width:80px;height:14px"><span style="transform:rotate(-90deg) scaleX(0.613)">JÚN</span></div>
<div class="c n rom" style="left:280.4px;top:774.86px;width:24.68px;height:14px"><span>VI.</span></div>
<div class="c n" style="left:300.42px;top:774.86px;width:34px;height:14px"><span>22</span></div>
<div class="c n" style="left:325.1px;top:767.41px;width:34px;height:14px"><span>176</span></div>
<div class="c n" style="left:325.1px;top:782.31px;width:34px;height:14px"><span>165<span class="ca">^</span></span></div>
<div class="c n rom" style="left:354.44px;top:324.68px;width:24.68px;height:14px"><span>I.</span></div>
<div class="c n" style="left:374.46px;top:317.23px;width:34px;height:14px"><span>62</span></div>
<div class="c n" style="left:374.46px;top:332.13px;width:34px;height:14px"><span>64<span class="pl">+</span></span></div>
<div class="c n" style="left:399.14px;top:302.33px;width:34px;height:14px"><span>496</span></div>
<div class="c n" style="left:399.14px;top:317.23px;width:34px;height:14px"><span>512<span class="pl">+</span></span></div>
<div class="c n" style="left:399.14px;top:332.13px;width:34px;height:14px"><span>465<span class="ca">^</span></span></div>
<div class="c n" style="left:399.14px;top:347.03px;width:34px;height:14px"><span>480<span class="pl">+</span><span class="ca">^</span></span></div>
<div class="c n rom" style="left:354.44px;top:665.06px;width:24.68px;height:14px"><span>II.</span></div>
<div class="c n" style="left:374.46px;top:657.61px;width:34px;height:14px"><span>61</span></div>
<div class="c n" style="left:374.46px;top:672.51px;width:34px;height:14px"><span>65<span class="pl">+</span></span></div>
<div class="c n" style="left:399.14px;top:642.71px;width:34px;height:14px"><span>488</span></div>
<div class="c n" style="left:399.14px;top:657.61px;width:34px;height:14px"><span>520<span class="pl">+</span></span></div>
<div class="c n lg6" style="left:399.14px;top:672.51px;width:34px;height:14px"><span>457,5<span class="ca">^</span></span></div>
<div class="c n lg6" style="left:399.14px;top:687.41px;width:34px;height:14px"><span>487,5<span class="pl">+</span><span class="ca">^</span></span></div>
<div class="r" style="left:627.7px;top:133.5px;width:23.1px;height:22px;background:#d0e0ea;"></div>
<div class="r" style="left:650.8px;top:133.5px;width:23.1px;height:22px;background:#b4ccdc;"></div>
<div class="r" style="left:627.7px;top:155.5px;width:23.1px;height:21.96px;background:#d0e0ea;"></div>
<div class="r" style="left:650.8px;top:155.5px;width:23.1px;height:21.96px;background:#6293b5;"></div>
<div class="r" style="left:627.7px;top:177.46px;width:23.1px;height:21.96px;background:#d0e0ea;"></div>
<div class="r" style="left:650.8px;top:177.46px;width:23.1px;height:21.96px;background:#b4ccdc;"></div>
<div class="r" style="left:627.7px;top:199.42px;width:23.1px;height:21.96px;background:#d0e0ea;"></div>
<div class="r" style="left:650.8px;top:199.42px;width:23.1px;height:21.96px;background:#b4ccdc;"></div>
<div class="r" style="left:627.7px;top:221.38px;width:23.1px;height:21.96px;background:#d0e0ea;"></div>
<div class="r" style="left:650.8px;top:221.38px;width:23.1px;height:21.96px;background:#b4ccdc;"></div>
<div class="r" style="left:627.7px;top:265.3px;width:23.1px;height:21.96px;background:#d0e0ea;"></div>
<div class="r" style="left:650.8px;top:265.3px;width:23.1px;height:21.96px;background:#b4ccdc;"></div>
<div class="r" style="left:627.7px;top:287.26px;width:23.1px;height:21.96px;background:#d0e0ea;"></div>
<div class="r" style="left:650.8px;top:287.26px;width:23.1px;height:21.96px;background:#b4ccdc;"></div>
<div class="r" style="left:627.7px;top:309.22px;width:23.1px;height:21.96px;background:#d0e0ea;"></div>
<div class="r" style="left:650.8px;top:309.22px;width:23.1px;height:21.96px;background:#b4ccdc;"></div>
<div class="r" style="left:627.7px;top:331.18px;width:23.1px;height:21.96px;background:#d0e0ea;"></div>
<div class="r" style="left:650.8px;top:331.18px;width:23.1px;height:21.96px;background:#b4ccdc;"></div>
<div class="r" style="left:627.7px;top:353.14px;width:23.1px;height:21.96px;background:#6293b5;"></div>
<div class="r" style="left:650.8px;top:353.14px;width:23.1px;height:21.96px;background:#b4ccdc;"></div>
<div class="r" style="left:535.3px;top:397.06px;width:23.1px;height:21.96px;background:#6293b5;"></div>
<div class="r" style="left:627.7px;top:397.06px;width:23.1px;height:21.96px;background:#d0e0ea;"></div>
<div class="r" style="left:650.8px;top:397.06px;width:23.1px;height:21.96px;background:#b4ccdc;"></div>
<div class="r" style="left:627.7px;top:419.02px;width:23.1px;height:21.96px;background:#d0e0ea;"></div>
<div class="r" style="left:650.8px;top:419.02px;width:23.1px;height:21.96px;background:#b4ccdc;"></div>
<div class="r" style="left:535.3px;top:440.98px;width:23.1px;height:21.96px;background:#6293b5;"></div>
<div class="r" style="left:627.7px;top:440.98px;width:23.1px;height:21.96px;background:#d0e0ea;"></div>
<div class="r" style="left:650.8px;top:440.98px;width:23.1px;height:21.96px;background:#b4ccdc;"></div>
<div class="r" style="left:627.7px;top:462.94px;width:23.1px;height:21.96px;background:#d0e0ea;"></div>
<div class="r" style="left:650.8px;top:462.94px;width:23.1px;height:21.96px;background:#b4ccdc;"></div>
<div class="r" style="left:627.7px;top:506.86px;width:23.1px;height:21.96px;background:#d0e0ea;"></div>
<div class="r" style="left:650.8px;top:506.86px;width:23.1px;height:21.96px;background:#b4ccdc;"></div>
<div class="r" style="left:627.7px;top:528.82px;width:23.1px;height:21.96px;background:#d0e0ea;"></div>
<div class="r" style="left:650.8px;top:528.82px;width:23.1px;height:21.96px;background:#b4ccdc;"></div>
<div class="r" style="left:627.7px;top:550.78px;width:23.1px;height:21.96px;background:#d0e0ea;"></div>
<div class="r" style="left:650.8px;top:550.78px;width:23.1px;height:21.96px;background:#b4ccdc;"></div>
<div class="r" style="left:627.7px;top:572.74px;width:23.1px;height:21.96px;background:#d0e0ea;"></div>
<div class="r" style="left:650.8px;top:572.74px;width:23.1px;height:21.96px;background:#b4ccdc;"></div>
<div class="r" style="left:558.4px;top:594.7px;width:23.1px;height:21.96px;background:#6293b5;"></div>
<div class="r" style="left:627.7px;top:594.7px;width:23.1px;height:21.96px;background:#d0e0ea;"></div>
<div class="r" style="left:650.8px;top:616.66px;width:23.1px;height:21.96px;background:#6293b5;"></div>
<div class="r" style="left:627.7px;top:638.62px;width:23.1px;height:21.96px;background:#d0e0ea;"></div>
<div class="r" style="left:650.8px;top:638.62px;width:23.1px;height:21.96px;background:#b4ccdc;"></div>
<div class="r" style="left:627.7px;top:660.58px;width:23.1px;height:21.96px;background:#d0e0ea;"></div>
<div class="r" style="left:650.8px;top:660.58px;width:23.1px;height:21.96px;background:#b4ccdc;"></div>
<div class="r" style="left:535.3px;top:682.54px;width:23.1px;height:21.96px;background:#6293b5;"></div>
<div class="r" style="left:627.7px;top:682.54px;width:23.1px;height:21.96px;background:#d0e0ea;"></div>
<div class="r" style="left:650.8px;top:682.54px;width:23.1px;height:21.96px;background:#b4ccdc;"></div>
<div class="r" style="left:627.7px;top:704.5px;width:23.1px;height:21.96px;background:#d0e0ea;"></div>
<div class="r" style="left:650.8px;top:704.5px;width:23.1px;height:21.96px;background:#b4ccdc;"></div>
<div class="r" style="left:627.7px;top:748.42px;width:23.1px;height:21.96px;background:#d0e0ea;"></div>
<div class="r" style="left:650.8px;top:748.42px;width:23.1px;height:21.96px;background:#b4ccdc;"></div>
<div class="r" style="left:627.7px;top:770.38px;width:23.1px;height:21.96px;background:#d0e0ea;"></div>
<div class="r" style="left:650.8px;top:770.38px;width:23.1px;height:21.96px;background:#b4ccdc;"></div>
<div class="r" style="left:627.7px;top:792.34px;width:23.1px;height:21.96px;background:#d0e0ea;"></div>
<div class="r" style="left:650.8px;top:792.34px;width:23.1px;height:21.96px;background:#b4ccdc;"></div>
<div class="r" style="left:581.5px;top:814.3px;width:23.1px;height:21.96px;background:#6293b5;"></div>
<div class="r" style="left:604.6px;top:814.3px;width:23.1px;height:21.96px;background:#6293b5;"></div>
<div class="r" style="left:627.7px;top:814.3px;width:23.1px;height:21.96px;background:#6293b5;"></div>
<div class="r" style="left:650.8px;top:814.3px;width:23.1px;height:21.96px;background:#b4ccdc;"></div>
<div class="r" style="left:485.2px;top:111px;width:383.22px;height:1px;background:#8c8c8c;"></div>
<div class="r" style="left:485.2px;top:857.72px;width:383.22px;height:1px;background:#8c8c8c;"></div>
<div class="r" style="left:484.7px;top:111.5px;width:1px;height:746.72px;background:#8c8c8c;"></div>
<div class="r" style="left:867.92px;top:111.5px;width:1px;height:746.72px;background:#8c8c8c;"></div>
<div class="r" style="left:512.2px;top:133px;width:356.22px;height:1px;background:#8c8c8c;"></div>
<div class="r" style="left:485.2px;top:155px;width:383.22px;height:1px;background:#8c8c8c;"></div>
<div class="r" style="left:511.7px;top:111.5px;width:1px;height:746.72px;background:#8c8c8c;"></div>
<div class="r" style="left:673.4px;top:111.5px;width:1px;height:746.72px;background:#8c8c8c;"></div>
<div class="r" style="left:719.6px;top:111.5px;width:1px;height:746.72px;background:#8c8c8c;"></div>
<div class="r" style="left:793.76px;top:111.5px;width:1px;height:746.72px;background:#8c8c8c;"></div>
<div class="r" style="left:534.8px;top:133.5px;width:1px;height:22px;background:#8c8c8c;"></div>
<div class="r" style="left:557.9px;top:133.5px;width:1px;height:22px;background:#8c8c8c;"></div>
<div class="r" style="left:581px;top:133.5px;width:1px;height:22px;background:#8c8c8c;"></div>
<div class="r" style="left:604.1px;top:133.5px;width:1px;height:22px;background:#8c8c8c;"></div>
<div class="r" style="left:627.2px;top:133.5px;width:1px;height:22px;background:#8c8c8c;"></div>
<div class="r" style="left:650.3px;top:133.5px;width:1px;height:22px;background:#8c8c8c;"></div>
<div class="r" style="left:696.5px;top:133.5px;width:1px;height:22px;background:#8c8c8c;"></div>
<div class="r" style="left:744.32px;top:133.5px;width:1px;height:22px;background:#8c8c8c;"></div>
<div class="r" style="left:769.04px;top:133.5px;width:1px;height:22px;background:#8c8c8c;"></div>
<div class="r" style="left:818.48px;top:133.5px;width:1px;height:22px;background:#8c8c8c;"></div>
<div class="r" style="left:843.2px;top:133.5px;width:1px;height:22px;background:#8c8c8c;"></div>
<div class="r" style="left:512.2px;top:176.96px;width:207.9px;height:1px;background:#8c8c8c;"></div>
<div class="r" style="left:512.2px;top:198.92px;width:207.9px;height:1px;background:#8c8c8c;"></div>
<div class="r" style="left:512.2px;top:220.88px;width:207.9px;height:1px;background:#8c8c8c;"></div>
<div class="r" style="left:512.2px;top:242.84px;width:207.9px;height:1px;background:#8c8c8c;"></div>
<div class="r" style="left:485.2px;top:264.8px;width:309.06px;height:1px;background:#8c8c8c;"></div>
<div class="r" style="left:512.2px;top:286.76px;width:207.9px;height:1px;background:#8c8c8c;"></div>
<div class="r" style="left:512.2px;top:308.72px;width:207.9px;height:1px;background:#8c8c8c;"></div>
<div class="r" style="left:512.2px;top:330.68px;width:207.9px;height:1px;background:#8c8c8c;"></div>
<div class="r" style="left:512.2px;top:352.64px;width:207.9px;height:1px;background:#8c8c8c;"></div>
<div class="r" style="left:512.2px;top:374.6px;width:207.9px;height:1px;background:#8c8c8c;"></div>
<div class="r" style="left:485.2px;top:396.56px;width:309.06px;height:1px;background:#8c8c8c;"></div>
<div class="r" style="left:512.2px;top:418.52px;width:207.9px;height:1px;background:#8c8c8c;"></div>
<div class="r" style="left:512.2px;top:440.48px;width:207.9px;height:1px;background:#8c8c8c;"></div>
<div class="r" style="left:512.2px;top:462.44px;width:207.9px;height:1px;background:#8c8c8c;"></div>
<div class="r" style="left:512.2px;top:484.4px;width:207.9px;height:1px;background:#8c8c8c;"></div>
<div class="r" style="left:485.2px;top:506.36px;width:309.06px;height:1px;background:#8c8c8c;"></div>
<div class="r" style="left:512.2px;top:528.32px;width:207.9px;height:1px;background:#8c8c8c;"></div>
<div class="r" style="left:512.2px;top:550.28px;width:207.9px;height:1px;background:#8c8c8c;"></div>
<div class="r" style="left:512.2px;top:572.24px;width:207.9px;height:1px;background:#8c8c8c;"></div>
<div class="r" style="left:512.2px;top:594.2px;width:207.9px;height:1px;background:#8c8c8c;"></div>
<div class="r" style="left:485.2px;top:616.16px;width:309.06px;height:1px;background:#8c8c8c;"></div>
<div class="r" style="left:512.2px;top:638.12px;width:207.9px;height:1px;background:#8c8c8c;"></div>
<div class="r" style="left:512.2px;top:660.08px;width:207.9px;height:1px;background:#8c8c8c;"></div>
<div class="r" style="left:512.2px;top:682.04px;width:207.9px;height:1px;background:#8c8c8c;"></div>
<div class="r" style="left:512.2px;top:704px;width:207.9px;height:1px;background:#8c8c8c;"></div>
<div class="r" style="left:512.2px;top:725.96px;width:207.9px;height:1px;background:#8c8c8c;"></div>
<div class="r" style="left:485.2px;top:747.92px;width:309.06px;height:1px;background:#8c8c8c;"></div>
<div class="r" style="left:512.2px;top:769.88px;width:207.9px;height:1px;background:#8c8c8c;"></div>
<div class="r" style="left:512.2px;top:791.84px;width:207.9px;height:1px;background:#8c8c8c;"></div>
<div class="r" style="left:512.2px;top:813.8px;width:207.9px;height:1px;background:#8c8c8c;"></div>
<div class="r" style="left:512.2px;top:835.76px;width:207.9px;height:1px;background:#8c8c8c;"></div>
<div class="r" style="left:534.8px;top:155.5px;width:1px;height:702.72px;background:#8c8c8c;"></div>
<div class="r" style="left:557.9px;top:155.5px;width:1px;height:702.72px;background:#8c8c8c;"></div>
<div class="r" style="left:581px;top:155.5px;width:1px;height:702.72px;background:#8c8c8c;"></div>
<div class="r" style="left:604.1px;top:155.5px;width:1px;height:702.72px;background:#8c8c8c;"></div>
<div class="r" style="left:627.2px;top:155.5px;width:1px;height:702.72px;background:#8c8c8c;"></div>
<div class="r" style="left:650.3px;top:155.5px;width:1px;height:702.72px;background:#8c8c8c;"></div>
<div class="r" style="left:673.4px;top:155.5px;width:1px;height:702.72px;background:#8c8c8c;"></div>
<div class="r" style="left:696.5px;top:155.5px;width:1px;height:702.72px;background:#8c8c8c;"></div>
<div class="r" style="left:744.32px;top:155.5px;width:1px;height:702.72px;background:#8c8c8c;"></div>
<div class="r" style="left:769.04px;top:155.5px;width:1px;height:702.72px;background:#8c8c8c;"></div>
<div class="r" style="left:818.48px;top:155.5px;width:1px;height:702.72px;background:#8c8c8c;"></div>
<div class="r" style="left:843.2px;top:155.5px;width:1px;height:702.72px;background:#8c8c8c;"></div>
<div class="r" style="left:794.26px;top:506.36px;width:74.16px;height:1px;background:#8c8c8c;"></div>
<div class="c hv" style="left:480.7px;top:126.5px;width:36px;height:14px"><span>MESIAC</span></div>
<div class="c hb" style="left:533.05px;top:115.5px;width:120px;height:14px"><span>DNI V TÝŽDNI</span></div>
<div class="c hb" style="left:674px;top:115.5px;width:46px;height:14px"><span>TÝŽDEŇ</span></div>
<div class="c hb" style="left:720.18px;top:115.5px;width:74px;height:14px"><span>MESIAC</span></div>
<div class="c hb" style="left:794.34px;top:115.5px;width:74px;height:14px"><span>ŠTVRŤROK</span></div>
<div class="c hs" style="left:512.2px;top:137.5px;width:23.1px;height:14px"><span>PO</span></div>
<div class="c hs" style="left:535.3px;top:137.5px;width:23.1px;height:14px"><span>UT</span></div>
<div class="c hs" style="left:558.4px;top:137.5px;width:23.1px;height:14px"><span>ST</span></div>
<div class="c hs" style="left:581.5px;top:137.5px;width:23.1px;height:14px"><span>ŠT</span></div>
<div class="c hs" style="left:604.6px;top:137.5px;width:23.1px;height:14px"><span>PIA</span></div>
<div class="c hs" style="left:627.7px;top:137.5px;width:23.1px;height:14px"><span>SO</span></div>
<div class="c hs" style="left:650.8px;top:137.5px;width:23.1px;height:14px"><span>NE</span></div>
<div class="c hs k" style="left:670.45px;top:134.5px;width:30px;height:20px"><span>ČÍSLO</span></div>
<div class="c hs2" style="left:693.55px;top:134.5px;width:30px;height:20px"><span>PRAC.<br>DNÍ</span></div>
<div class="c hs k" style="left:717.46px;top:134.5px;width:30px;height:20px"><span>ČÍSLO</span></div>
<div class="c hs2" style="left:742.18px;top:134.5px;width:30px;height:20px"><span>PRAC.<br>DNÍ</span></div>
<div class="c hs2" style="left:766.9px;top:134.5px;width:30px;height:20px"><span>PRAC.<br>HODÍN</span></div>
<div class="c hs k" style="left:791.62px;top:134.5px;width:30px;height:20px"><span>ČÍSLO</span></div>
<div class="c hs2" style="left:816.34px;top:134.5px;width:30px;height:20px"><span>PRAC.<br>DNÍ</span></div>
<div class="c hs2" style="left:841.06px;top:134.5px;width:30px;height:20px"><span>PRAC.<br>HODÍN</span></div>
<div class="c n" style="left:558.4px;top:159.98px;width:23.1px;height:14px"><span>1</span></div>
<div class="c n" style="left:581.5px;top:159.98px;width:23.1px;height:14px"><span>2</span></div>
<div class="c n" style="left:604.6px;top:159.98px;width:23.1px;height:14px"><span>3</span></div>
<div class="c n" style="left:627.7px;top:159.98px;width:23.1px;height:14px"><span>4</span></div>
<div class="c n" style="left:650.8px;top:159.98px;width:23.1px;height:14px"><span>5</span></div>
<div class="c n" style="left:512.2px;top:181.94px;width:23.1px;height:14px"><span>6</span></div>
<div class="c n" style="left:535.3px;top:181.94px;width:23.1px;height:14px"><span>7</span></div>
<div class="c n" style="left:558.4px;top:181.94px;width:23.1px;height:14px"><span>8</span></div>
<div class="c n" style="left:581.5px;top:181.94px;width:23.1px;height:14px"><span>9</span></div>
<div class="c n" style="left:604.6px;top:181.94px;width:23.1px;height:14px"><span>10</span></div>
<div class="c n" style="left:627.7px;top:181.94px;width:23.1px;height:14px"><span>11</span></div>
<div class="c n" style="left:650.8px;top:181.94px;width:23.1px;height:14px"><span>12</span></div>
<div class="c n" style="left:512.2px;top:203.9px;width:23.1px;height:14px"><span>13</span></div>
<div class="c n" style="left:535.3px;top:203.9px;width:23.1px;height:14px"><span>14</span></div>
<div class="c n" style="left:558.4px;top:203.9px;width:23.1px;height:14px"><span>15</span></div>
<div class="c n" style="left:581.5px;top:203.9px;width:23.1px;height:14px"><span>16</span></div>
<div class="c n" style="left:604.6px;top:203.9px;width:23.1px;height:14px"><span>17</span></div>
<div class="c n" style="left:627.7px;top:203.9px;width:23.1px;height:14px"><span>18</span></div>
<div class="c n" style="left:650.8px;top:203.9px;width:23.1px;height:14px"><span>19</span></div>
<div class="c n" style="left:512.2px;top:225.86px;width:23.1px;height:14px"><span>20</span></div>
<div class="c n" style="left:535.3px;top:225.86px;width:23.1px;height:14px"><span>21</span></div>
<div class="c n" style="left:558.4px;top:225.86px;width:23.1px;height:14px"><span>22</span></div>
<div class="c n" style="left:581.5px;top:225.86px;width:23.1px;height:14px"><span>23</span></div>
<div class="c n" style="left:604.6px;top:225.86px;width:23.1px;height:14px"><span>24</span></div>
<div class="c n" style="left:627.7px;top:225.86px;width:23.1px;height:14px"><span>25</span></div>
<div class="c n" style="left:650.8px;top:225.86px;width:23.1px;height:14px"><span>26</span></div>
<div class="c n" style="left:512.2px;top:247.82px;width:23.1px;height:14px"><span>27</span></div>
<div class="c n" style="left:535.3px;top:247.82px;width:23.1px;height:14px"><span>28</span></div>
<div class="c n" style="left:558.4px;top:247.82px;width:23.1px;height:14px"><span>29</span></div>
<div class="c n" style="left:581.5px;top:247.82px;width:23.1px;height:14px"><span>30</span></div>
<div class="c n" style="left:604.6px;top:247.82px;width:23.1px;height:14px"><span>31</span></div>
<div class="c n" style="left:673.9px;top:159.98px;width:23.1px;height:14px"><span>27</span></div>
<div class="c n" style="left:697px;top:159.98px;width:23.1px;height:14px"><span>3</span></div>
<div class="c n" style="left:673.9px;top:181.94px;width:23.1px;height:14px"><span>28</span></div>
<div class="c n" style="left:697px;top:181.94px;width:23.1px;height:14px"><span>5</span></div>
<div class="c n" style="left:673.9px;top:203.9px;width:23.1px;height:14px"><span>29</span></div>
<div class="c n" style="left:697px;top:203.9px;width:23.1px;height:14px"><span>5</span></div>
<div class="c n" style="left:673.9px;top:225.86px;width:23.1px;height:14px"><span>30</span></div>
<div class="c n" style="left:697px;top:225.86px;width:23.1px;height:14px"><span>5</span></div>
<div class="c n" style="left:673.9px;top:247.82px;width:23.1px;height:14px"><span>31</span></div>
<div class="c n" style="left:697px;top:247.82px;width:23.1px;height:14px"><span>5</span></div>
<div class="c mv" style="left:459.5px;top:203.4px;width:80px;height:14px"><span style="transform:rotate(-90deg) scaleX(0.614)">JÚL</span></div>
<div class="c n rom" style="left:720.12px;top:203.9px;width:24.68px;height:14px"><span>VII.</span></div>
<div class="c n" style="left:740.18px;top:203.9px;width:34px;height:14px"><span>23</span></div>
<div class="c n" style="left:764.9px;top:196.45px;width:34px;height:14px"><span>184</span></div>
<div class="c n lg6" style="left:764.9px;top:211.35px;width:34px;height:14px"><span>172,5<span class="ca">^</span></span></div>
<div class="c n" style="left:627.7px;top:269.78px;width:23.1px;height:14px"><span>1</span></div>
<div class="c n" style="left:650.8px;top:269.78px;width:23.1px;height:14px"><span>2</span></div>
<div class="c n" style="left:512.2px;top:291.74px;width:23.1px;height:14px"><span>3</span></div>
<div class="c n" style="left:535.3px;top:291.74px;width:23.1px;height:14px"><span>4</span></div>
<div class="c n" style="left:558.4px;top:291.74px;width:23.1px;height:14px"><span>5</span></div>
<div class="c n" style="left:581.5px;top:291.74px;width:23.1px;height:14px"><span>6</span></div>
<div class="c n" style="left:604.6px;top:291.74px;width:23.1px;height:14px"><span>7</span></div>
<div class="c n" style="left:627.7px;top:291.74px;width:23.1px;height:14px"><span>8</span></div>
<div class="c n" style="left:650.8px;top:291.74px;width:23.1px;height:14px"><span>9</span></div>
<div class="c n" style="left:512.2px;top:313.7px;width:23.1px;height:14px"><span>10</span></div>
<div class="c n" style="left:535.3px;top:313.7px;width:23.1px;height:14px"><span>11</span></div>
<div class="c n" style="left:558.4px;top:313.7px;width:23.1px;height:14px"><span>12</span></div>
<div class="c n" style="left:581.5px;top:313.7px;width:23.1px;height:14px"><span>13</span></div>
<div class="c n" style="left:604.6px;top:313.7px;width:23.1px;height:14px"><span>14</span></div>
<div class="c n" style="left:627.7px;top:313.7px;width:23.1px;height:14px"><span>15</span></div>
<div class="c n" style="left:650.8px;top:313.7px;width:23.1px;height:14px"><span>16</span></div>
<div class="c n" style="left:512.2px;top:335.66px;width:23.1px;height:14px"><span>17</span></div>
<div class="c n" style="left:535.3px;top:335.66px;width:23.1px;height:14px"><span>18</span></div>
<div class="c n" style="left:558.4px;top:335.66px;width:23.1px;height:14px"><span>19</span></div>
<div class="c n" style="left:581.5px;top:335.66px;width:23.1px;height:14px"><span>20</span></div>
<div class="c n" style="left:604.6px;top:335.66px;width:23.1px;height:14px"><span>21</span></div>
<div class="c n" style="left:627.7px;top:335.66px;width:23.1px;height:14px"><span>22</span></div>
<div class="c n" style="left:650.8px;top:335.66px;width:23.1px;height:14px"><span>23</span></div>
<div class="c n" style="left:512.2px;top:357.62px;width:23.1px;height:14px"><span>24</span></div>
<div class="c n" style="left:535.3px;top:357.62px;width:23.1px;height:14px"><span>25</span></div>
<div class="c n" style="left:558.4px;top:357.62px;width:23.1px;height:14px"><span>26</span></div>
<div class="c n" style="left:581.5px;top:357.62px;width:23.1px;height:14px"><span>27</span></div>
<div class="c n" style="left:604.6px;top:357.62px;width:23.1px;height:14px"><span>28</span></div>
<div class="c n" style="left:627.7px;top:357.62px;width:23.1px;height:14px"><span>29</span></div>
<div class="c n" style="left:650.8px;top:357.62px;width:23.1px;height:14px"><span>30</span></div>
<div class="c n" style="left:512.2px;top:379.58px;width:23.1px;height:14px"><span>31</span></div>
<div class="c n" style="left:673.9px;top:269.78px;width:23.1px;height:14px"><span>31</span></div>
<div class="c n" style="left:697px;top:269.78px;width:23.1px;height:14px"><span>0</span></div>
<div class="c n" style="left:673.9px;top:291.74px;width:23.1px;height:14px"><span>32</span></div>
<div class="c n" style="left:697px;top:291.74px;width:23.1px;height:14px"><span>5</span></div>
<div class="c n" style="left:673.9px;top:313.7px;width:23.1px;height:14px"><span>33</span></div>
<div class="c n" style="left:697px;top:313.7px;width:23.1px;height:14px"><span>5</span></div>
<div class="c n" style="left:673.9px;top:335.66px;width:23.1px;height:14px"><span>34</span></div>
<div class="c n" style="left:697px;top:335.66px;width:23.1px;height:14px"><span>5</span></div>
<div class="c n" style="left:673.9px;top:357.62px;width:23.1px;height:14px"><span>35</span></div>
<div class="c n" style="left:697px;top:357.62px;width:23.1px;height:14px"><span>5</span></div>
<div class="c n" style="left:673.9px;top:379.58px;width:23.1px;height:14px"><span>36</span></div>
<div class="c n" style="left:697px;top:379.58px;width:23.1px;height:14px"><span>1</span></div>
<div class="c mv" style="left:459.5px;top:324.18px;width:80px;height:14px"><span style="transform:rotate(-90deg) scaleX(0.667)">AUGUST</span></div>
<div class="c n rom" style="left:720.12px;top:324.68px;width:24.68px;height:14px"><span>VIII.</span></div>
<div class="c n" style="left:740.18px;top:324.68px;width:34px;height:14px"><span>21</span></div>
<div class="c n" style="left:764.9px;top:317.23px;width:34px;height:14px"><span>168</span></div>
<div class="c n lg6" style="left:764.9px;top:332.13px;width:34px;height:14px"><span>157,5<span class="ca">^</span></span></div>
<div class="c n" style="left:535.3px;top:401.54px;width:23.1px;height:14px"><span>1</span></div>
<div class="c n" style="left:558.4px;top:401.54px;width:23.1px;height:14px"><span>2</span></div>
<div class="c n" style="left:581.5px;top:401.54px;width:23.1px;height:14px"><span>3</span></div>
<div class="c n" style="left:604.6px;top:401.54px;width:23.1px;height:14px"><span>4</span></div>
<div class="c n" style="left:627.7px;top:401.54px;width:23.1px;height:14px"><span>5</span></div>
<div class="c n" style="left:650.8px;top:401.54px;width:23.1px;height:14px"><span>6</span></div>
<div class="c n" style="left:512.2px;top:423.5px;width:23.1px;height:14px"><span>7</span></div>
<div class="c n" style="left:535.3px;top:423.5px;width:23.1px;height:14px"><span>8</span></div>
<div class="c n" style="left:558.4px;top:423.5px;width:23.1px;height:14px"><span>9</span></div>
<div class="c n" style="left:581.5px;top:423.5px;width:23.1px;height:14px"><span>10</span></div>
<div class="c n" style="left:604.6px;top:423.5px;width:23.1px;height:14px"><span>11</span></div>
<div class="c n" style="left:627.7px;top:423.5px;width:23.1px;height:14px"><span>12</span></div>
<div class="c n" style="left:650.8px;top:423.5px;width:23.1px;height:14px"><span>13</span></div>
<div class="c n" style="left:512.2px;top:445.46px;width:23.1px;height:14px"><span>14</span></div>
<div class="c n" style="left:535.3px;top:445.46px;width:23.1px;height:14px"><span>15<span class="st">*</span></span></div>
<div class="c n" style="left:558.4px;top:445.46px;width:23.1px;height:14px"><span>16</span></div>
<div class="c n" style="left:581.5px;top:445.46px;width:23.1px;height:14px"><span>17</span></div>
<div class="c n" style="left:604.6px;top:445.46px;width:23.1px;height:14px"><span>18</span></div>
<div class="c n" style="left:627.7px;top:445.46px;width:23.1px;height:14px"><span>19</span></div>
<div class="c n" style="left:650.8px;top:445.46px;width:23.1px;height:14px"><span>20</span></div>
<div class="c n" style="left:512.2px;top:467.42px;width:23.1px;height:14px"><span>21</span></div>
<div class="c n" style="left:535.3px;top:467.42px;width:23.1px;height:14px"><span>22</span></div>
<div class="c n" style="left:558.4px;top:467.42px;width:23.1px;height:14px"><span>23</span></div>
<div class="c n" style="left:581.5px;top:467.42px;width:23.1px;height:14px"><span>24</span></div>
<div class="c n" style="left:604.6px;top:467.42px;width:23.1px;height:14px"><span>25</span></div>
<div class="c n" style="left:627.7px;top:467.42px;width:23.1px;height:14px"><span>26</span></div>
<div class="c n" style="left:650.8px;top:467.42px;width:23.1px;height:14px"><span>27</span></div>
<div class="c n" style="left:512.2px;top:489.38px;width:23.1px;height:14px"><span>28</span></div>
<div class="c n" style="left:535.3px;top:489.38px;width:23.1px;height:14px"><span>29</span></div>
<div class="c n" style="left:558.4px;top:489.38px;width:23.1px;height:14px"><span>30</span></div>
<div class="c n" style="left:673.9px;top:401.54px;width:23.1px;height:14px"><span>36</span></div>
<div class="c n" style="left:697px;top:401.54px;width:23.1px;height:14px"><span>4</span></div>
<div class="c n" style="left:673.9px;top:423.5px;width:23.1px;height:14px"><span>37</span></div>
<div class="c n" style="left:697px;top:423.5px;width:23.1px;height:14px"><span>5</span></div>
<div class="c n" style="left:673.9px;top:445.46px;width:23.1px;height:14px"><span>38</span></div>
<div class="c n" style="left:697px;top:445.46px;width:23.1px;height:14px"><span>4</span></div>
<div class="c n" style="left:673.9px;top:467.42px;width:23.1px;height:14px"><span>39</span></div>
<div class="c n" style="left:697px;top:467.42px;width:23.1px;height:14px"><span>5</span></div>
<div class="c n" style="left:673.9px;top:489.38px;width:23.1px;height:14px"><span>40</span></div>
<div class="c n" style="left:697px;top:489.38px;width:23.1px;height:14px"><span>3</span></div>
<div class="c mv" style="left:459.5px;top:444.96px;width:80px;height:14px"><span style="transform:rotate(-90deg) scaleX(0.647)">SEPTEMBER</span></div>
<div class="c n rom" style="left:720.12px;top:445.46px;width:24.68px;height:14px"><span>IX.</span></div>
<div class="c n" style="left:740.18px;top:438.01px;width:34px;height:14px"><span>21</span></div>
<div class="c n" style="left:740.18px;top:452.91px;width:34px;height:14px"><span>1<span class="st">*</span></span></div>
<div class="c n" style="left:764.9px;top:423.11px;width:34px;height:14px"><span>168</span></div>
<div class="c n" style="left:764.9px;top:438.01px;width:34px;height:14px"><span>176<span class="pl">+</span></span></div>
<div class="c n lg6" style="left:764.9px;top:452.91px;width:34px;height:14px"><span>157,5<span class="ca">^</span></span></div>
<div class="c n" style="left:764.9px;top:467.81px;width:34px;height:14px"><span>165<span class="pl">+</span><span class="ca">^</span></span></div>
<div class="c n" style="left:581.5px;top:511.34px;width:23.1px;height:14px"><span>1</span></div>
<div class="c n" style="left:604.6px;top:511.34px;width:23.1px;height:14px"><span>2</span></div>
<div class="c n" style="left:627.7px;top:511.34px;width:23.1px;height:14px"><span>3</span></div>
<div class="c n" style="left:650.8px;top:511.34px;width:23.1px;height:14px"><span>4</span></div>
<div class="c n" style="left:512.2px;top:533.3px;width:23.1px;height:14px"><span>5</span></div>
<div class="c n" style="left:535.3px;top:533.3px;width:23.1px;height:14px"><span>6</span></div>
<div class="c n" style="left:558.4px;top:533.3px;width:23.1px;height:14px"><span>7</span></div>
<div class="c n" style="left:581.5px;top:533.3px;width:23.1px;height:14px"><span>8</span></div>
<div class="c n" style="left:604.6px;top:533.3px;width:23.1px;height:14px"><span>9</span></div>
<div class="c n" style="left:627.7px;top:533.3px;width:23.1px;height:14px"><span>10</span></div>
<div class="c n" style="left:650.8px;top:533.3px;width:23.1px;height:14px"><span>11</span></div>
<div class="c n" style="left:512.2px;top:555.26px;width:23.1px;height:14px"><span>12</span></div>
<div class="c n" style="left:535.3px;top:555.26px;width:23.1px;height:14px"><span>13</span></div>
<div class="c n" style="left:558.4px;top:555.26px;width:23.1px;height:14px"><span>14</span></div>
<div class="c n" style="left:581.5px;top:555.26px;width:23.1px;height:14px"><span>15</span></div>
<div class="c n" style="left:604.6px;top:555.26px;width:23.1px;height:14px"><span>16</span></div>
<div class="c n" style="left:627.7px;top:555.26px;width:23.1px;height:14px"><span>17</span></div>
<div class="c n" style="left:650.8px;top:555.26px;width:23.1px;height:14px"><span>18</span></div>
<div class="c n" style="left:512.2px;top:577.22px;width:23.1px;height:14px"><span>19</span></div>
<div class="c n" style="left:535.3px;top:577.22px;width:23.1px;height:14px"><span>20</span></div>
<div class="c n" style="left:558.4px;top:577.22px;width:23.1px;height:14px"><span>21</span></div>
<div class="c n" style="left:581.5px;top:577.22px;width:23.1px;height:14px"><span>22</span></div>
<div class="c n" style="left:604.6px;top:577.22px;width:23.1px;height:14px"><span>23</span></div>
<div class="c n" style="left:627.7px;top:577.22px;width:23.1px;height:14px"><span>24</span></div>
<div class="c n" style="left:650.8px;top:577.22px;width:23.1px;height:14px"><span>25</span></div>
<div class="c n" style="left:512.2px;top:599.18px;width:23.1px;height:14px"><span>26</span></div>
<div class="c n" style="left:535.3px;top:599.18px;width:23.1px;height:14px"><span>27</span></div>
<div class="c n" style="left:558.4px;top:599.18px;width:23.1px;height:14px"><span>28</span></div>
<div class="c n" style="left:581.5px;top:599.18px;width:23.1px;height:14px"><span>29</span></div>
<div class="c n" style="left:604.6px;top:599.18px;width:23.1px;height:14px"><span>30</span></div>
<div class="c n" style="left:627.7px;top:599.18px;width:23.1px;height:14px"><span>31</span></div>
<div class="c n" style="left:673.9px;top:511.34px;width:23.1px;height:14px"><span>40</span></div>
<div class="c n" style="left:697px;top:511.34px;width:23.1px;height:14px"><span>2</span></div>
<div class="c n" style="left:673.9px;top:533.3px;width:23.1px;height:14px"><span>41</span></div>
<div class="c n" style="left:697px;top:533.3px;width:23.1px;height:14px"><span>5</span></div>
<div class="c n" style="left:673.9px;top:555.26px;width:23.1px;height:14px"><span>42</span></div>
<div class="c n" style="left:697px;top:555.26px;width:23.1px;height:14px"><span>5</span></div>
<div class="c n" style="left:673.9px;top:577.22px;width:23.1px;height:14px"><span>43</span></div>
<div class="c n" style="left:697px;top:577.22px;width:23.1px;height:14px"><span>5</span></div>
<div class="c n" style="left:673.9px;top:599.18px;width:23.1px;height:14px"><span>44</span></div>
<div class="c n" style="left:697px;top:599.18px;width:23.1px;height:14px"><span>5</span></div>
<div class="c mv" style="left:459.5px;top:554.76px;width:80px;height:14px"><span style="transform:rotate(-90deg) scaleX(0.627)">OKTÓBER</span></div>
<div class="c n rom" style="left:720.12px;top:555.26px;width:24.68px;height:14px"><span>X.</span></div>
<div class="c n" style="left:740.18px;top:555.26px;width:34px;height:14px"><span>22</span></div>
<div class="c n" style="left:764.9px;top:547.81px;width:34px;height:14px"><span>176</span></div>
<div class="c n" style="left:764.9px;top:562.71px;width:34px;height:14px"><span>165<span class="ca">^</span></span></div>
<div class="c n" style="left:650.8px;top:621.14px;width:23.1px;height:14px"><span>1</span></div>
<div class="c n" style="left:512.2px;top:643.1px;width:23.1px;height:14px"><span>2</span></div>
<div class="c n" style="left:535.3px;top:643.1px;width:23.1px;height:14px"><span>3</span></div>
<div class="c n" style="left:558.4px;top:643.1px;width:23.1px;height:14px"><span>4</span></div>
<div class="c n" style="left:581.5px;top:643.1px;width:23.1px;height:14px"><span>5</span></div>
<div class="c n" style="left:604.6px;top:643.1px;width:23.1px;height:14px"><span>6</span></div>
<div class="c n" style="left:627.7px;top:643.1px;width:23.1px;height:14px"><span>7</span></div>
<div class="c n" style="left:650.8px;top:643.1px;width:23.1px;height:14px"><span>8</span></div>
<div class="c n" style="left:512.2px;top:665.06px;width:23.1px;height:14px"><span>9</span></div>
<div class="c n" style="left:535.3px;top:665.06px;width:23.1px;height:14px"><span>10</span></div>
<div class="c n" style="left:558.4px;top:665.06px;width:23.1px;height:14px"><span>11</span></div>
<div class="c n" style="left:581.5px;top:665.06px;width:23.1px;height:14px"><span>12</span></div>
<div class="c n" style="left:604.6px;top:665.06px;width:23.1px;height:14px"><span>13</span></div>
<div class="c n" style="left:627.7px;top:665.06px;width:23.1px;height:14px"><span>14</span></div>
<div class="c n" style="left:650.8px;top:665.06px;width:23.1px;height:14px"><span>15</span></div>
<div class="c n" style="left:512.2px;top:687.02px;width:23.1px;height:14px"><span>16</span></div>
<div class="c n" style="left:535.3px;top:687.02px;width:23.1px;height:14px"><span>17<span class="st">*</span></span></div>
<div class="c n" style="left:558.4px;top:687.02px;width:23.1px;height:14px"><span>18</span></div>
<div class="c n" style="left:581.5px;top:687.02px;width:23.1px;height:14px"><span>19</span></div>
<div class="c n" style="left:604.6px;top:687.02px;width:23.1px;height:14px"><span>20</span></div>
<div class="c n" style="left:627.7px;top:687.02px;width:23.1px;height:14px"><span>21</span></div>
<div class="c n" style="left:650.8px;top:687.02px;width:23.1px;height:14px"><span>22</span></div>
<div class="c n" style="left:512.2px;top:708.98px;width:23.1px;height:14px"><span>23</span></div>
<div class="c n" style="left:535.3px;top:708.98px;width:23.1px;height:14px"><span>24</span></div>
<div class="c n" style="left:558.4px;top:708.98px;width:23.1px;height:14px"><span>25</span></div>
<div class="c n" style="left:581.5px;top:708.98px;width:23.1px;height:14px"><span>26</span></div>
<div class="c n" style="left:604.6px;top:708.98px;width:23.1px;height:14px"><span>27</span></div>
<div class="c n" style="left:627.7px;top:708.98px;width:23.1px;height:14px"><span>28</span></div>
<div class="c n" style="left:650.8px;top:708.98px;width:23.1px;height:14px"><span>29</span></div>
<div class="c n" style="left:512.2px;top:730.94px;width:23.1px;height:14px"><span>30</span></div>
<div class="c n" style="left:673.9px;top:621.14px;width:23.1px;height:14px"><span>44</span></div>
<div class="c n" style="left:697px;top:621.14px;width:23.1px;height:14px"><span>0</span></div>
<div class="c n" style="left:673.9px;top:643.1px;width:23.1px;height:14px"><span>45</span></div>
<div class="c n" style="left:697px;top:643.1px;width:23.1px;height:14px"><span>5</span></div>
<div class="c n" style="left:673.9px;top:665.06px;width:23.1px;height:14px"><span>46</span></div>
<div class="c n" style="left:697px;top:665.06px;width:23.1px;height:14px"><span>5</span></div>
<div class="c n" style="left:673.9px;top:687.02px;width:23.1px;height:14px"><span>47</span></div>
<div class="c n" style="left:697px;top:687.02px;width:23.1px;height:14px"><span>4</span></div>
<div class="c n" style="left:673.9px;top:708.98px;width:23.1px;height:14px"><span>48</span></div>
<div class="c n" style="left:697px;top:708.98px;width:23.1px;height:14px"><span>5</span></div>
<div class="c n" style="left:673.9px;top:730.94px;width:23.1px;height:14px"><span>49</span></div>
<div class="c n" style="left:697px;top:730.94px;width:23.1px;height:14px"><span>1</span></div>
<div class="c mv" style="left:459.5px;top:675.54px;width:80px;height:14px"><span style="transform:rotate(-90deg) scaleX(0.657)">NOVEMBER</span></div>
<div class="c n rom" style="left:720.12px;top:676.04px;width:24.68px;height:14px"><span>XI.</span></div>
<div class="c n" style="left:740.18px;top:668.59px;width:34px;height:14px"><span>20</span></div>
<div class="c n" style="left:740.18px;top:683.49px;width:34px;height:14px"><span>1<span class="st">*</span></span></div>
<div class="c n" style="left:764.9px;top:653.69px;width:34px;height:14px"><span>160</span></div>
<div class="c n" style="left:764.9px;top:668.59px;width:34px;height:14px"><span>168<span class="pl">+</span></span></div>
<div class="c n" style="left:764.9px;top:683.49px;width:34px;height:14px"><span>150<span class="ca">^</span></span></div>
<div class="c n lg6" style="left:764.9px;top:698.39px;width:34px;height:14px"><span>157,5<span class="pl">+</span><span class="ca">^</span></span></div>
<div class="c n" style="left:535.3px;top:752.9px;width:23.1px;height:14px"><span>1</span></div>
<div class="c n" style="left:558.4px;top:752.9px;width:23.1px;height:14px"><span>2</span></div>
<div class="c n" style="left:581.5px;top:752.9px;width:23.1px;height:14px"><span>3</span></div>
<div class="c n" style="left:604.6px;top:752.9px;width:23.1px;height:14px"><span>4</span></div>
<div class="c n" style="left:627.7px;top:752.9px;width:23.1px;height:14px"><span>5</span></div>
<div class="c n" style="left:650.8px;top:752.9px;width:23.1px;height:14px"><span>6</span></div>
<div class="c n" style="left:512.2px;top:774.86px;width:23.1px;height:14px"><span>7</span></div>
<div class="c n" style="left:535.3px;top:774.86px;width:23.1px;height:14px"><span>8</span></div>
<div class="c n" style="left:558.4px;top:774.86px;width:23.1px;height:14px"><span>9</span></div>
<div class="c n" style="left:581.5px;top:774.86px;width:23.1px;height:14px"><span>10</span></div>
<div class="c n" style="left:604.6px;top:774.86px;width:23.1px;height:14px"><span>11</span></div>
<div class="c n" style="left:627.7px;top:774.86px;width:23.1px;height:14px"><span>12</span></div>
<div class="c n" style="left:650.8px;top:774.86px;width:23.1px;height:14px"><span>13</span></div>
<div class="c n" style="left:512.2px;top:796.82px;width:23.1px;height:14px"><span>14</span></div>
<div class="c n" style="left:535.3px;top:796.82px;width:23.1px;height:14px"><span>15</span></div>
<div class="c n" style="left:558.4px;top:796.82px;width:23.1px;height:14px"><span>16</span></div>
<div class="c n" style="left:581.5px;top:796.82px;width:23.1px;height:14px"><span>17</span></div>
<div class="c n" style="left:604.6px;top:796.82px;width:23.1px;height:14px"><span>18</span></div>
<div class="c n" style="left:627.7px;top:796.82px;width:23.1px;height:14px"><span>19</span></div>
<div class="c n" style="left:650.8px;top:796.82px;width:23.1px;height:14px"><span>20</span></div>
<div class="c n" style="left:512.2px;top:818.78px;width:23.1px;height:14px"><span>21</span></div>
<div class="c n" style="left:535.3px;top:818.78px;width:23.1px;height:14px"><span>22</span></div>
<div class="c n" style="left:558.4px;top:818.78px;width:23.1px;height:14px"><span>23</span></div>
<div class="c n" style="left:581.5px;top:818.78px;width:23.1px;height:14px"><span>24<span class="st">*</span></span></div>
<div class="c n" style="left:604.6px;top:818.78px;width:23.1px;height:14px"><span>25<span class="st">*</span></span></div>
<div class="c n" style="left:627.7px;top:818.78px;width:23.1px;height:14px"><span>26</span></div>
<div class="c n" style="left:650.8px;top:818.78px;width:23.1px;height:14px"><span>27</span></div>
<div class="c n" style="left:512.2px;top:840.74px;width:23.1px;height:14px"><span>28</span></div>
<div class="c n" style="left:535.3px;top:840.74px;width:23.1px;height:14px"><span>29</span></div>
<div class="c n" style="left:558.4px;top:840.74px;width:23.1px;height:14px"><span>30</span></div>
<div class="c n" style="left:581.5px;top:840.74px;width:23.1px;height:14px"><span>31</span></div>
<div class="c n" style="left:673.9px;top:752.9px;width:23.1px;height:14px"><span>49</span></div>
<div class="c n" style="left:697px;top:752.9px;width:23.1px;height:14px"><span>4</span></div>
<div class="c n" style="left:673.9px;top:774.86px;width:23.1px;height:14px"><span>50</span></div>
<div class="c n" style="left:697px;top:774.86px;width:23.1px;height:14px"><span>5</span></div>
<div class="c n" style="left:673.9px;top:796.82px;width:23.1px;height:14px"><span>51</span></div>
<div class="c n" style="left:697px;top:796.82px;width:23.1px;height:14px"><span>5</span></div>
<div class="c n" style="left:673.9px;top:818.78px;width:23.1px;height:14px"><span>52</span></div>
<div class="c n" style="left:697px;top:818.78px;width:23.1px;height:14px"><span>3</span></div>
<div class="c n" style="left:673.9px;top:840.74px;width:23.1px;height:14px"><span>53</span></div>
<div class="c n" style="left:697px;top:840.74px;width:23.1px;height:14px"><span>4</span></div>
<div class="c mv" style="left:459.5px;top:796.32px;width:80px;height:14px"><span style="transform:rotate(-90deg) scaleX(0.645)">DECEMBER</span></div>
<div class="c n rom" style="left:720.12px;top:796.82px;width:24.68px;height:14px"><span>XII.</span></div>
<div class="c n" style="left:740.18px;top:789.37px;width:34px;height:14px"><span>21</span></div>
<div class="c n" style="left:740.18px;top:804.27px;width:34px;height:14px"><span>2<span class="st">*</span></span></div>
<div class="c n" style="left:764.9px;top:774.47px;width:34px;height:14px"><span>168</span></div>
<div class="c n" style="left:764.9px;top:789.37px;width:34px;height:14px"><span>184<span class="pl">+</span></span></div>
<div class="c n lg6" style="left:764.9px;top:804.27px;width:34px;height:14px"><span>157,5<span class="ca">^</span></span></div>
<div class="c n lg6" style="left:764.9px;top:819.17px;width:34px;height:14px"><span>172,5<span class="pl">+</span><span class="ca">^</span></span></div>
<div class="c n rom" style="left:794.28px;top:324.68px;width:24.68px;height:14px"><span>III.</span></div>
<div class="c n" style="left:814.34px;top:317.23px;width:34px;height:14px"><span>65</span></div>
<div class="c n" style="left:814.34px;top:332.13px;width:34px;height:14px"><span>66<span class="pl">+</span></span></div>
<div class="c n" style="left:839.06px;top:302.33px;width:34px;height:14px"><span>520</span></div>
<div class="c n" style="left:839.06px;top:317.23px;width:34px;height:14px"><span>528<span class="pl">+</span></span></div>
<div class="c n lg6" style="left:839.06px;top:332.13px;width:34px;height:14px"><span>487,5<span class="ca">^</span></span></div>
<div class="c n" style="left:839.06px;top:347.03px;width:34px;height:14px"><span>495<span class="pl">+</span><span class="ca">^</span></span></div>
<div class="c n rom" style="left:794.28px;top:676.04px;width:24.68px;height:14px"><span>IV.</span></div>
<div class="c n" style="left:814.34px;top:668.59px;width:34px;height:14px"><span>63</span></div>
<div class="c n" style="left:814.34px;top:683.49px;width:34px;height:14px"><span>66<span class="pl">+</span></span></div>
<div class="c n" style="left:839.06px;top:653.69px;width:34px;height:14px"><span>504</span></div>
<div class="c n" style="left:839.06px;top:668.59px;width:34px;height:14px"><span>528<span class="pl">+</span></span></div>
<div class="c n lg6" style="left:839.06px;top:683.49px;width:34px;height:14px"><span>472,5<span class="ca">^</span></span></div>
<div class="c n" style="left:839.06px;top:698.39px;width:34px;height:14px"><span>495<span class="pl">+</span><span class="ca">^</span></span></div>
<div class="sl" style="left:485px;top:931.3px;transform:scaleX(.773)">PRACOVNÝCH DNÍ</div>
<div class="sl" style="left:485px;top:952px;transform:scaleX(.711)">8-HODINOVÝ PRACOVNÝ ČAS</div>
<div class="sl" style="left:485px;top:965.5px;transform:scaleX(.711)">7,5-HODINOVÝ PRACOVNÝ ČAS</div>
<div class="r" style="left:485px;top:950.8px;width:383px;height:1.2px;background:#444;"></div>
<div class="c sn" style="left:588.5px;top:931.3px;width:30px;height:14px"><span>1</span></div>
<div class="c sn" style="left:588.5px;top:952px;width:30px;height:14px"><span>8</span></div>
<div class="c sn" style="left:588.5px;top:965.5px;width:30px;height:14px"><span>7,5</span></div>
<div class="c sn" style="left:619.56px;top:931.3px;width:30px;height:14px"><span>2</span></div>
<div class="c sn" style="left:619.56px;top:952px;width:30px;height:14px"><span>16</span></div>
<div class="c sn" style="left:619.56px;top:965.5px;width:30px;height:14px"><span>15</span></div>
<div class="c sn" style="left:650.62px;top:931.3px;width:30px;height:14px"><span>3</span></div>
<div class="c sn" style="left:650.62px;top:952px;width:30px;height:14px"><span>24</span></div>
<div class="c sn" style="left:650.62px;top:965.5px;width:30px;height:14px"><span>22,5</span></div>
<div class="c sn" style="left:681.68px;top:931.3px;width:30px;height:14px"><span>4</span></div>
<div class="c sn" style="left:681.68px;top:952px;width:30px;height:14px"><span>32</span></div>
<div class="c sn" style="left:681.68px;top:965.5px;width:30px;height:14px"><span>30</span></div>
<div class="c sn" style="left:712.74px;top:931.3px;width:30px;height:14px"><span>5</span></div>
<div class="c sn" style="left:712.74px;top:952px;width:30px;height:14px"><span>40</span></div>
<div class="c sn" style="left:712.74px;top:965.5px;width:30px;height:14px"><span>37,5</span></div>
<div class="c sn" style="left:743.8px;top:931.3px;width:30px;height:14px"><span>6</span></div>
<div class="c sn" style="left:743.8px;top:952px;width:30px;height:14px"><span>48</span></div>
<div class="c sn" style="left:743.8px;top:965.5px;width:30px;height:14px"><span>45</span></div>
<div class="c sn" style="left:774.86px;top:931.3px;width:30px;height:14px"><span>7</span></div>
<div class="c sn" style="left:774.86px;top:952px;width:30px;height:14px"><span>56</span></div>
<div class="c sn" style="left:774.86px;top:965.5px;width:30px;height:14px"><span>52,5</span></div>
<div class="c sn" style="left:805.92px;top:931.3px;width:30px;height:14px"><span>8</span></div>
<div class="c sn" style="left:805.92px;top:952px;width:30px;height:14px"><span>64</span></div>
<div class="c sn" style="left:805.92px;top:965.5px;width:30px;height:14px"><span>60</span></div>
<div class="c sn" style="left:836.98px;top:931.3px;width:30px;height:14px"><span>9</span></div>
<div class="c sn" style="left:836.98px;top:952px;width:30px;height:14px"><span>72</span></div>
<div class="c sn" style="left:836.98px;top:965.5px;width:30px;height:14px"><span>67,5</span></div>

<div class="lg" style="top:862px;font-weight:bold;font-size:8.6px;transform:scaleX(.745)">LEGENDA:</div>
<div class="lg sy" style="left:102.5px;top:862.5px">*</div><div class="lg" style="left:110.5px;top:861.7px;transform:scaleX(.797)">Platený sviatok</div>
<div class="lg sy" style="left:102.5px;top:872.5px">+</div><div class="lg" style="left:110.5px;top:871.7px;transform:scaleX(.797)">Fond pracovného času vrátane platených sviatkov</div>
<div class="lg sy" style="left:102.5px;top:882.5px">^</div><div class="lg" style="left:110.5px;top:881.7px;transform:scaleX(.797)">7,5-hodinový pracovný čas</div>
<div class="lg" style="top:901px;font-weight:bold;font-size:9.4px;transform:scaleX(.76)">8-HODINOVÝ PRACOVNÝ ČAS</div>
<div class="lg" style="top:913.7px">Rok 2026 má dokopy <b>251</b> pracovných dní, t. j. <b>2 008</b> pracovných hodín.</div>
<div class="lg" style="top:923.7px">S platenými sviatkami má rok <b>261</b> pracovných dní, t. j. <b>2 088</b> pracovných hodín.</div>
<div class="lg" style="top:942px;font-weight:bold;font-size:9.4px;transform:scaleX(.76)">7,5-HODINOVÝ PRACOVNÝ ČAS</div>
<div class="lg" style="top:954.7px">Rok 2026 má dokopy <b>251</b> pracovných dní, t. j. <b>1 882,5</b> pracovnej hodiny.</div>
<div class="lg" style="top:964.7px">S platenými sviatkami má rok <b>261</b> pracovných dní, t. j. <b>1 957,5</b> pracovnej hodiny.</div>

<div class="ov" style="left:18px;top:18px;width:439px;height:988px;background:linear-gradient(to right,rgba(0,0,0,0) 0,rgba(0,0,0,0) 370px,rgba(0,0,0,.02) 420px,rgba(0,0,0,.06) 429.4px,rgba(0,0,0,.15) 435.5px,rgba(0,0,0,.28) 438px,rgba(0,0,0,.36) 439px)"></div>
<div class="ov" style="left:457px;top:18px;width:440px;height:988px;background:linear-gradient(to right,rgba(0,0,0,.28) 0,rgba(0,0,0,.2) 1.5px,rgba(0,0,0,.13) 4px,rgba(0,0,0,.12) 23px,rgba(0,0,0,.08) 43px,rgba(0,0,0,.04) 83px,rgba(0,0,0,.02) 123px,rgba(0,0,0,0) 163px,rgba(0,0,0,0) 425px,rgba(0,0,0,.05) 440px)"></div>
<div class="ov" style="left:457px;top:18px;width:440px;height:988px;background:linear-gradient(to right,rgba(0,0,0,.05) 0,rgba(0,0,0,.05) 19px,rgba(0,0,0,.03) 43px,rgba(0,0,0,.02) 73px,rgba(0,0,0,.01) 103px,rgba(0,0,0,0) 143px);-webkit-mask-image:linear-gradient(to bottom,rgba(0,0,0,0),#000);mask-image:linear-gradient(to bottom,rgba(0,0,0,0),#000)"></div>
<div class="ov" style="left:457px;top:18px;width:1px;height:988px;background:#727272"></div>
</body></html>
